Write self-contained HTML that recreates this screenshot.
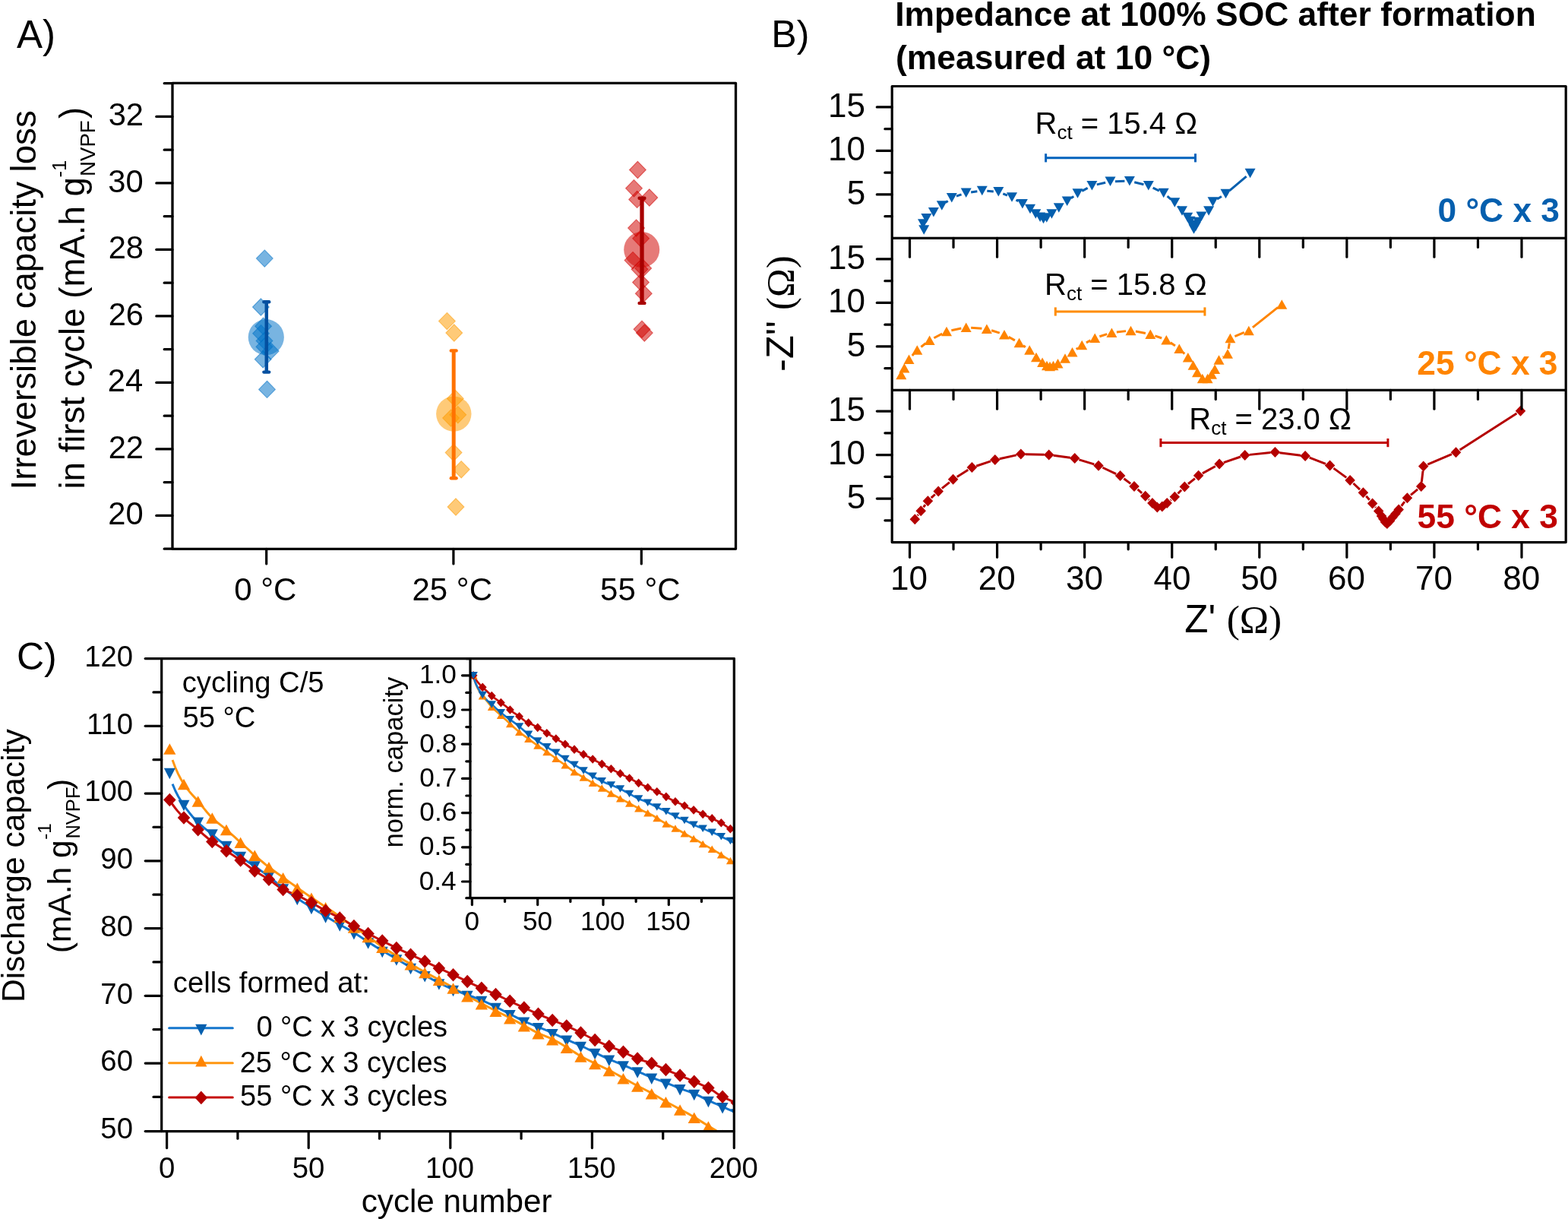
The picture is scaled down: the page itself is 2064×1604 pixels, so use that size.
<!DOCTYPE html>
<html><head><meta charset="utf-8"><title>Figure</title><style>html,body{margin:0;padding:0;background:#fff;overflow:hidden}svg{display:block}text{font-kerning:normal}</style></head><body>
<svg width="2064" height="1604" viewBox="0 0 2064 1604"><rect width="2064" height="1604" fill="#fff"/><text x="22.1" y="62.8" font-family="'Liberation Sans', Arial, sans-serif" font-size="51" fill="#000">A)</text>
<polygon points="348.3,328.95 359.2,340.1 348.3,351.25 337.4,340.1" fill="rgb(0,113,198)" fill-opacity="0.53" stroke="rgb(0,113,198)" stroke-opacity="0.53" stroke-width="1.1"/>
<polygon points="343.4,392.85 354.3,404 343.4,415.15 332.5,404" fill="rgb(0,113,198)" fill-opacity="0.53" stroke="rgb(0,113,198)" stroke-opacity="0.53" stroke-width="1.1"/>
<polygon points="346.6,418.05 357.5,429.2 346.6,440.35 335.7,429.2" fill="rgb(0,113,198)" fill-opacity="0.53" stroke="rgb(0,113,198)" stroke-opacity="0.53" stroke-width="1.1"/>
<polygon points="343.6,427.65 354.5,438.8 343.6,449.95 332.7,438.8" fill="rgb(0,113,198)" fill-opacity="0.53" stroke="rgb(0,113,198)" stroke-opacity="0.53" stroke-width="1.1"/>
<polygon points="348,437.25 358.9,448.4 348,459.55 337.1,448.4" fill="rgb(0,113,198)" fill-opacity="0.53" stroke="rgb(0,113,198)" stroke-opacity="0.53" stroke-width="1.1"/>
<polygon points="347.9,445.05 358.8,456.2 347.9,467.35 337,456.2" fill="rgb(0,113,198)" fill-opacity="0.53" stroke="rgb(0,113,198)" stroke-opacity="0.53" stroke-width="1.1"/>
<polygon points="356.2,450.75 367.1,461.9 356.2,473.05 345.3,461.9" fill="rgb(0,113,198)" fill-opacity="0.53" stroke="rgb(0,113,198)" stroke-opacity="0.53" stroke-width="1.1"/>
<polygon points="346.2,461.65 357.1,472.8 346.2,483.95 335.3,472.8" fill="rgb(0,113,198)" fill-opacity="0.53" stroke="rgb(0,113,198)" stroke-opacity="0.53" stroke-width="1.1"/>
<polygon points="351.5,501.25 362.4,512.4 351.5,523.55 340.6,512.4" fill="rgb(0,113,198)" fill-opacity="0.53" stroke="rgb(0,113,198)" stroke-opacity="0.53" stroke-width="1.1"/>
<circle cx="350.3" cy="443.7" r="23.6" fill="rgb(0,113,198)" fill-opacity="0.53"/>
<line x1="350.8" y1="397.2" x2="350.8" y2="489.6" stroke="#0450a0" stroke-width="4.5" stroke-linecap="butt"/>
<line x1="347.4" y1="397.2" x2="354.2" y2="397.2" stroke="#0450a0" stroke-width="4.4" stroke-linecap="round"/>
<line x1="347.4" y1="489.6" x2="354.2" y2="489.6" stroke="#0450a0" stroke-width="4.4" stroke-linecap="round"/>
<polygon points="588.4,411.45 599.3,422.6 588.4,433.75 577.5,422.6" fill="rgb(253,155,0)" fill-opacity="0.53" stroke="rgb(253,155,0)" stroke-opacity="0.53" stroke-width="1.1"/>
<polygon points="597.8,426.85 608.7,438 597.8,449.15 586.9,438" fill="rgb(253,155,0)" fill-opacity="0.53" stroke="rgb(253,155,0)" stroke-opacity="0.53" stroke-width="1.1"/>
<polygon points="599.3,513.25 610.2,524.4 599.3,535.55 588.4,524.4" fill="rgb(253,155,0)" fill-opacity="0.53" stroke="rgb(253,155,0)" stroke-opacity="0.53" stroke-width="1.1"/>
<polygon points="593.6,538.95 604.5,550.1 593.6,561.25 582.7,550.1" fill="rgb(253,155,0)" fill-opacity="0.53" stroke="rgb(253,155,0)" stroke-opacity="0.53" stroke-width="1.1"/>
<polygon points="602.8,534.65 613.7,545.8 602.8,556.95 591.9,545.8" fill="rgb(253,155,0)" fill-opacity="0.53" stroke="rgb(253,155,0)" stroke-opacity="0.53" stroke-width="1.1"/>
<polygon points="597.1,584.45 608,595.6 597.1,606.75 586.2,595.6" fill="rgb(253,155,0)" fill-opacity="0.53" stroke="rgb(253,155,0)" stroke-opacity="0.53" stroke-width="1.1"/>
<polygon points="607.2,606.65 618.1,617.8 607.2,628.95 596.3,617.8" fill="rgb(253,155,0)" fill-opacity="0.53" stroke="rgb(253,155,0)" stroke-opacity="0.53" stroke-width="1.1"/>
<polygon points="600,655.85 610.9,667 600,678.15 589.1,667" fill="rgb(253,155,0)" fill-opacity="0.53" stroke="rgb(253,155,0)" stroke-opacity="0.53" stroke-width="1.1"/>
<circle cx="597.3" cy="544.6" r="23.2" fill="rgb(253,155,0)" fill-opacity="0.53"/>
<line x1="597.2" y1="461.4" x2="597.2" y2="629.2" stroke="#ff7200" stroke-width="5" stroke-linecap="butt"/>
<line x1="593.8" y1="461.4" x2="600.6" y2="461.4" stroke="#ff7200" stroke-width="4.4" stroke-linecap="round"/>
<line x1="593.8" y1="629.2" x2="600.6" y2="629.2" stroke="#ff7200" stroke-width="4.4" stroke-linecap="round"/>
<polygon points="839.4,212.35 850.3,223.5 839.4,234.65 828.5,223.5" fill="rgb(208,4,0)" fill-opacity="0.53" stroke="rgb(208,4,0)" stroke-opacity="0.53" stroke-width="1.1"/>
<polygon points="834.5,236.65 845.4,247.8 834.5,258.95 823.6,247.8" fill="rgb(208,4,0)" fill-opacity="0.53" stroke="rgb(208,4,0)" stroke-opacity="0.53" stroke-width="1.1"/>
<polygon points="854.8,248.85 865.7,260 854.8,271.15 843.9,260" fill="rgb(208,4,0)" fill-opacity="0.53" stroke="rgb(208,4,0)" stroke-opacity="0.53" stroke-width="1.1"/>
<polygon points="838.6,251.25 849.5,262.4 838.6,273.55 827.7,262.4" fill="rgb(208,4,0)" fill-opacity="0.53" stroke="rgb(208,4,0)" stroke-opacity="0.53" stroke-width="1.1"/>
<polygon points="837.5,288.95 848.4,300.1 837.5,311.25 826.6,300.1" fill="rgb(208,4,0)" fill-opacity="0.53" stroke="rgb(208,4,0)" stroke-opacity="0.53" stroke-width="1.1"/>
<polygon points="843.6,302.65 854.5,313.8 843.6,324.95 832.7,313.8" fill="rgb(208,4,0)" fill-opacity="0.53" stroke="rgb(208,4,0)" stroke-opacity="0.53" stroke-width="1.1"/>
<polygon points="833,331.45 843.9,342.6 833,353.75 822.1,342.6" fill="rgb(208,4,0)" fill-opacity="0.53" stroke="rgb(208,4,0)" stroke-opacity="0.53" stroke-width="1.1"/>
<polygon points="846.7,341.75 857.6,352.9 846.7,364.05 835.8,352.9" fill="rgb(208,4,0)" fill-opacity="0.53" stroke="rgb(208,4,0)" stroke-opacity="0.53" stroke-width="1.1"/>
<polygon points="842,343.15 852.9,354.3 842,365.45 831.1,354.3" fill="rgb(208,4,0)" fill-opacity="0.53" stroke="rgb(208,4,0)" stroke-opacity="0.53" stroke-width="1.1"/>
<polygon points="843.5,360.45 854.4,371.6 843.5,382.75 832.6,371.6" fill="rgb(208,4,0)" fill-opacity="0.53" stroke="rgb(208,4,0)" stroke-opacity="0.53" stroke-width="1.1"/>
<polygon points="847.3,375.05 858.2,386.2 847.3,397.35 836.4,386.2" fill="rgb(208,4,0)" fill-opacity="0.53" stroke="rgb(208,4,0)" stroke-opacity="0.53" stroke-width="1.1"/>
<polygon points="845,422.15 855.9,433.3 845,444.45 834.1,433.3" fill="rgb(208,4,0)" fill-opacity="0.53" stroke="rgb(208,4,0)" stroke-opacity="0.53" stroke-width="1.1"/>
<polygon points="848.3,426.95 859.2,438.1 848.3,449.25 837.4,438.1" fill="rgb(208,4,0)" fill-opacity="0.53" stroke="rgb(208,4,0)" stroke-opacity="0.53" stroke-width="1.1"/>
<circle cx="844.7" cy="328.5" r="23.5" fill="rgb(208,4,0)" fill-opacity="0.53"/>
<line x1="845" y1="260.7" x2="845" y2="398.9" stroke="#a80000" stroke-width="5.3" stroke-linecap="butt"/>
<line x1="841.6" y1="260.7" x2="848.4" y2="260.7" stroke="#a80000" stroke-width="4.4" stroke-linecap="round"/>
<line x1="841.6" y1="398.9" x2="848.4" y2="398.9" stroke="#a80000" stroke-width="4.4" stroke-linecap="round"/>
<rect x="227" y="109.3" width="741.5" height="613" fill="none" stroke="#000" stroke-width="3.3" stroke-linejoin="round"/>
<line x1="227" y1="722.15" x2="216.2" y2="722.15" stroke="#000" stroke-width="3.2" stroke-linecap="round"/>
<line x1="227" y1="678.4" x2="205.8" y2="678.4" stroke="#000" stroke-width="3.2" stroke-linecap="round"/>
<text x="142.26" y="690" font-family="'Liberation Sans', Arial, sans-serif" font-size="41.7" fill="#000">20</text>
<line x1="227" y1="634.65" x2="216.2" y2="634.65" stroke="#000" stroke-width="3.2" stroke-linecap="round"/>
<line x1="227" y1="590.9" x2="205.8" y2="590.9" stroke="#000" stroke-width="3.2" stroke-linecap="round"/>
<text x="142.68" y="602.5" font-family="'Liberation Sans', Arial, sans-serif" font-size="41.7" fill="#000">22</text>
<line x1="227" y1="547.15" x2="216.2" y2="547.15" stroke="#000" stroke-width="3.2" stroke-linecap="round"/>
<line x1="227" y1="503.4" x2="205.8" y2="503.4" stroke="#000" stroke-width="3.2" stroke-linecap="round"/>
<text x="141.85" y="515" font-family="'Liberation Sans', Arial, sans-serif" font-size="41.7" fill="#000">24</text>
<line x1="227" y1="459.65" x2="216.2" y2="459.65" stroke="#000" stroke-width="3.2" stroke-linecap="round"/>
<line x1="227" y1="415.9" x2="205.8" y2="415.9" stroke="#000" stroke-width="3.2" stroke-linecap="round"/>
<text x="142.68" y="427.5" font-family="'Liberation Sans', Arial, sans-serif" font-size="41.7" fill="#000">26</text>
<line x1="227" y1="372.15" x2="216.2" y2="372.15" stroke="#000" stroke-width="3.2" stroke-linecap="round"/>
<line x1="227" y1="328.4" x2="205.8" y2="328.4" stroke="#000" stroke-width="3.2" stroke-linecap="round"/>
<text x="142.68" y="340" font-family="'Liberation Sans', Arial, sans-serif" font-size="41.7" fill="#000">28</text>
<line x1="227" y1="284.65" x2="216.2" y2="284.65" stroke="#000" stroke-width="3.2" stroke-linecap="round"/>
<line x1="227" y1="240.9" x2="205.8" y2="240.9" stroke="#000" stroke-width="3.2" stroke-linecap="round"/>
<text x="142.26" y="252.5" font-family="'Liberation Sans', Arial, sans-serif" font-size="41.7" fill="#000">30</text>
<line x1="227" y1="197.15" x2="216.2" y2="197.15" stroke="#000" stroke-width="3.2" stroke-linecap="round"/>
<line x1="227" y1="153.4" x2="205.8" y2="153.4" stroke="#000" stroke-width="3.2" stroke-linecap="round"/>
<text x="142.68" y="165" font-family="'Liberation Sans', Arial, sans-serif" font-size="41.7" fill="#000">32</text>
<line x1="227" y1="109.65" x2="216.2" y2="109.65" stroke="#000" stroke-width="3.2" stroke-linecap="round"/>
<line x1="350.7" y1="722.3" x2="350.7" y2="742" stroke="#000" stroke-width="3.2" stroke-linecap="round"/>
<text x="308.25" y="789.9" font-family="'Liberation Sans', Arial, sans-serif" font-size="42" fill="#000">0 °C</text>
<line x1="596.9" y1="722.3" x2="596.9" y2="742" stroke="#000" stroke-width="3.2" stroke-linecap="round"/>
<text x="542.48" y="789.9" font-family="'Liberation Sans', Arial, sans-serif" font-size="42" fill="#000">25 °C</text>
<line x1="844.3" y1="722.3" x2="844.3" y2="742" stroke="#000" stroke-width="3.2" stroke-linecap="round"/>
<text x="790.09" y="789.9" font-family="'Liberation Sans', Arial, sans-serif" font-size="42" fill="#000">55 °C</text>
<g transform="translate(47,640.4) rotate(-90)">
<text x="-4.1" y="0" font-family="'Liberation Sans', Arial, sans-serif" font-size="45.6" fill="#000">Irreversible capacity loss</text>
</g>
<g transform="translate(110.5,640.4) rotate(-90)">
<text x="-3.19" y="0" font-family="'Liberation Sans', Arial, sans-serif" font-size="45.6" fill="#000">in first cycle (mA.h g</text>
<text x="406.88" y="-23.7" font-family="'Liberation Sans', Arial, sans-serif" font-size="25.5" fill="#000">-1</text>
<text x="408.49" y="14.9" font-family="'Liberation Sans', Arial, sans-serif" font-size="27.6" fill="#000">NVPF</text>
<text x="484.44" y="0" font-family="'Liberation Sans', Arial, sans-serif" font-size="45.6" fill="#000">)</text>
</g>
<text x="1015.3" y="61.5" font-family="'Liberation Sans', Arial, sans-serif" font-size="50" fill="#000">B)</text>
<text x="1178.19" y="33.8" font-family="'Liberation Sans', Arial, sans-serif" font-size="44.4" font-weight="bold" fill="#000">Impedance at 100% SOC after formation</text>
<text x="1179.08" y="90.8" font-family="'Liberation Sans', Arial, sans-serif" font-size="44.4" font-weight="bold" fill="#000">(measured at 10 °C)</text>
<path d="M1244.91,266.49L1247.69,264.31M1258.95,258.19L1265.55,255.91M1278.14,252.91L1286.36,251.79M1299.29,251.32L1307.81,251.88M1320.31,254.78L1325.99,257.12M1337.51,263.05L1340.39,264.85M1409.93,260.84L1413.27,258.36M1424.22,251.41L1431.68,247.39M1443.74,242.85L1455.16,240.25M1468,238.65L1480.4,238.35M1493.22,239.72L1505.48,242.68M1517.64,247.05L1525.86,251.05M1536.6,258.17L1541.4,262.33M1550.62,271.46L1551.68,272.64M1602.06,262.03L1607.94,258.47M1618.46,250.9L1640.64,232.1" stroke="#055fae" stroke-width="3" fill="none"/>
<path d="M1200.79,467.92L1203.01,465.38M1212.41,456.49L1218.49,451.71M1229.37,444.71L1240.23,439.09M1252.36,434.76L1265.34,432.04M1278.18,431.18L1292.42,432.22M1305.08,434.71L1315.82,438.19M1327.69,443.34L1335.91,447.86M1346.93,454.72L1349.87,456.78M1416.74,459.46L1418.96,457.84M1429.9,450.88L1435.5,447.82M1447.4,442.75L1457.2,439.65M1469.86,436.98L1482.04,435.62M1494.89,436.09L1507.91,438.51M1520.42,441.89L1529.18,445.01M1540.68,450.84L1546.92,455.06M1556.9,463.3L1559.2,465.6M1609.81,469.86L1610.69,469.24M1617.07,459.09L1618.33,451.51M1625.4,442.59L1637.8,437.41M1648.89,430.86L1682.21,404.44" stroke="#ff8400" stroke-width="3" fill="none"/>
<path d="M1207.8,678.33L1208.7,677.07M1215.68,667.32L1217.92,664.18M1225.78,655.2L1230.82,650.5M1239.88,642.64L1249.92,634.56M1259.67,627.59L1274.33,618.31M1285.09,613.21L1304.11,606.89M1315.66,603.72L1337.94,598.88M1349.8,597.75L1374.7,598.35M1386.65,599.3L1408.75,602.3M1420.44,604.86L1440.26,610.94M1451.43,615.25L1469.17,623.55M1479.39,629.72L1488.21,636.38M1497.52,643.94L1503.18,648.86M1511.94,657.04L1512.66,657.76M1540.86,658.22L1541.64,657.58M1550.49,649.51L1555.11,644.79M1563.98,636.74L1572.92,629.56M1582.85,622.9L1599.85,613.5M1610.77,608.64L1633.03,600.96M1644.67,598.38L1672.43,595.52M1684.35,595.66L1712.15,599.24M1723.69,602.17L1745.01,610.43M1755.45,616.13L1772.25,628.37M1781.47,636.01L1790.03,644.09M1798.31,652.75L1802.69,657.85M1810.33,667.1L1810.97,667.9M1844.74,665.76L1848.86,660.14M1857.02,651.47L1866.08,643.93M1871.37,634.14L1873.03,619.56M1879.22,611.24L1910.98,597.66M1921.55,592.06L1996.45,544.04" stroke="#b40000" stroke-width="3" fill="none"/>
<polygon points="1209.2,296.25 1223.2,296.25 1216.2,308.75" fill="#055fae"/>
<polygon points="1208,288.25 1222,288.25 1215,300.75" fill="#055fae"/>
<polygon points="1212.4,280.95 1226.4,280.95 1219.4,293.45" fill="#055fae"/>
<polygon points="1221.9,272.95 1235.9,272.95 1228.9,285.45" fill="#055fae"/>
<polygon points="1232.8,264.25 1246.8,264.25 1239.8,276.75" fill="#055fae"/>
<polygon points="1245.8,254.05 1259.8,254.05 1252.8,266.55" fill="#055fae"/>
<polygon points="1264.7,247.55 1278.7,247.55 1271.7,260.05" fill="#055fae"/>
<polygon points="1285.8,244.65 1299.8,244.65 1292.8,257.15" fill="#055fae"/>
<polygon points="1307.3,246.05 1321.3,246.05 1314.3,258.55" fill="#055fae"/>
<polygon points="1325,253.35 1339,253.35 1332,265.85" fill="#055fae"/>
<polygon points="1338.9,262.05 1352.9,262.05 1345.9,274.55" fill="#055fae"/>
<polygon points="1349,268.65 1363,268.65 1356,281.15" fill="#055fae"/>
<polygon points="1356.3,275.15 1370.3,275.15 1363.3,287.65" fill="#055fae"/>
<polygon points="1362.1,279.55 1376.1,279.55 1369.1,292.05" fill="#055fae"/>
<polygon points="1366.5,281.75 1380.5,281.75 1373.5,294.25" fill="#055fae"/>
<polygon points="1370.8,280.25 1384.8,280.25 1377.8,292.75" fill="#055fae"/>
<polygon points="1377.4,275.15 1391.4,275.15 1384.4,287.65" fill="#055fae"/>
<polygon points="1386.8,267.15 1400.8,267.15 1393.8,279.65" fill="#055fae"/>
<polygon points="1397.7,258.45 1411.7,258.45 1404.7,270.95" fill="#055fae"/>
<polygon points="1411.5,248.25 1425.5,248.25 1418.5,260.75" fill="#055fae"/>
<polygon points="1430.4,238.05 1444.4,238.05 1437.4,250.55" fill="#055fae"/>
<polygon points="1454.5,232.55 1468.5,232.55 1461.5,245.05" fill="#055fae"/>
<polygon points="1479.9,231.95 1493.9,231.95 1486.9,244.45" fill="#055fae"/>
<polygon points="1504.8,237.95 1518.8,237.95 1511.8,250.45" fill="#055fae"/>
<polygon points="1524.7,247.65 1538.7,247.65 1531.7,260.15" fill="#055fae"/>
<polygon points="1539.3,260.35 1553.3,260.35 1546.3,272.85" fill="#055fae"/>
<polygon points="1549,271.25 1563,271.25 1556,283.75" fill="#055fae"/>
<polygon points="1556.2,279.75 1570.2,279.75 1563.2,292.25" fill="#055fae"/>
<polygon points="1559.5,284.75 1573.5,284.75 1566.5,297.25" fill="#055fae"/>
<polygon points="1562,289.75 1576,289.75 1569,302.25" fill="#055fae"/>
<polygon points="1564.5,295.25 1578.5,295.25 1571.5,307.75" fill="#055fae"/>
<polygon points="1567,291.75 1581,291.75 1574,304.25" fill="#055fae"/>
<polygon points="1570,285.75 1584,285.75 1577,298.25" fill="#055fae"/>
<polygon points="1574.4,278.55 1588.4,278.55 1581.4,291.05" fill="#055fae"/>
<polygon points="1584.1,271.25 1598.1,271.25 1591.1,283.75" fill="#055fae"/>
<polygon points="1589.5,259.15 1603.5,259.15 1596.5,271.65" fill="#055fae"/>
<polygon points="1606.5,248.85 1620.5,248.85 1613.5,261.35" fill="#055fae"/>
<polygon points="1638.6,221.65 1652.6,221.65 1645.6,234.15" fill="#055fae"/>
<polygon points="1179.3,499.35 1193.3,499.35 1186.3,486.85" fill="#ff8400"/>
<polygon points="1183.4,490.55 1197.4,490.55 1190.4,478.05" fill="#ff8400"/>
<polygon points="1189.5,479.05 1203.5,479.05 1196.5,466.55" fill="#ff8400"/>
<polygon points="1200.3,466.75 1214.3,466.75 1207.3,454.25" fill="#ff8400"/>
<polygon points="1216.6,453.95 1230.6,453.95 1223.6,441.45" fill="#ff8400"/>
<polygon points="1239,442.35 1253,442.35 1246,429.85" fill="#ff8400"/>
<polygon points="1264.7,436.95 1278.7,436.95 1271.7,424.45" fill="#ff8400"/>
<polygon points="1291.9,438.95 1305.9,438.95 1298.9,426.45" fill="#ff8400"/>
<polygon points="1315,446.45 1329,446.45 1322,433.95" fill="#ff8400"/>
<polygon points="1334.6,457.25 1348.6,457.25 1341.6,444.75" fill="#ff8400"/>
<polygon points="1348.2,466.75 1362.2,466.75 1355.2,454.25" fill="#ff8400"/>
<polygon points="1357,476.25 1371,476.25 1364,463.75" fill="#ff8400"/>
<polygon points="1365.1,483.05 1379.1,483.05 1372.1,470.55" fill="#ff8400"/>
<polygon points="1371,487.25 1385,487.25 1378,474.75" fill="#ff8400"/>
<polygon points="1375,488.25 1389,488.25 1382,475.75" fill="#ff8400"/>
<polygon points="1379.5,487.25 1393.5,487.25 1386.5,474.75" fill="#ff8400"/>
<polygon points="1385.5,484.45 1399.5,484.45 1392.5,471.95" fill="#ff8400"/>
<polygon points="1395,477.65 1409,477.65 1402,465.15" fill="#ff8400"/>
<polygon points="1404.5,469.55 1418.5,469.55 1411.5,457.05" fill="#ff8400"/>
<polygon points="1417.2,460.25 1431.2,460.25 1424.2,447.75" fill="#ff8400"/>
<polygon points="1434.2,450.95 1448.2,450.95 1441.2,438.45" fill="#ff8400"/>
<polygon points="1456.4,443.95 1470.4,443.95 1463.4,431.45" fill="#ff8400"/>
<polygon points="1481.5,441.15 1495.5,441.15 1488.5,428.65" fill="#ff8400"/>
<polygon points="1507.3,445.95 1521.3,445.95 1514.3,433.45" fill="#ff8400"/>
<polygon points="1528.3,453.45 1542.3,453.45 1535.3,440.95" fill="#ff8400"/>
<polygon points="1545.3,464.95 1559.3,464.95 1552.3,452.45" fill="#ff8400"/>
<polygon points="1556.8,476.45 1570.8,476.45 1563.8,463.95" fill="#ff8400"/>
<polygon points="1563.6,486.65 1577.6,486.65 1570.6,474.15" fill="#ff8400"/>
<polygon points="1569,496.15 1583,496.15 1576,483.65" fill="#ff8400"/>
<polygon points="1575.8,504.25 1589.8,504.25 1582.8,491.75" fill="#ff8400"/>
<polygon points="1582.6,504.25 1596.6,504.25 1589.6,491.75" fill="#ff8400"/>
<polygon points="1588,498.85 1602,498.85 1595,486.35" fill="#ff8400"/>
<polygon points="1592.1,492.05 1606.1,492.05 1599.1,479.55" fill="#ff8400"/>
<polygon points="1597.5,479.85 1611.5,479.85 1604.5,467.35" fill="#ff8400"/>
<polygon points="1609,471.75 1623,471.75 1616,459.25" fill="#ff8400"/>
<polygon points="1612.4,451.35 1626.4,451.35 1619.4,438.85" fill="#ff8400"/>
<polygon points="1636.8,441.15 1650.8,441.15 1643.8,428.65" fill="#ff8400"/>
<polygon points="1680.3,406.65 1694.3,406.65 1687.3,394.15" fill="#ff8400"/>
<polygon points="1204.3,676.2 1211.05,683.2 1204.3,690.2 1197.55,683.2" fill="#b40000"/>
<polygon points="1212.2,665.2 1218.95,672.2 1212.2,679.2 1205.45,672.2" fill="#b40000"/>
<polygon points="1221.4,652.3 1228.15,659.3 1221.4,666.3 1214.65,659.3" fill="#b40000"/>
<polygon points="1235.2,639.4 1241.95,646.4 1235.2,653.4 1228.45,646.4" fill="#b40000"/>
<polygon points="1254.6,623.8 1261.35,630.8 1254.6,637.8 1247.85,630.8" fill="#b40000"/>
<polygon points="1279.4,608.1 1286.15,615.1 1279.4,622.1 1272.65,615.1" fill="#b40000"/>
<polygon points="1309.8,598 1316.55,605 1309.8,612 1303.05,605" fill="#b40000"/>
<polygon points="1343.8,590.6 1350.55,597.6 1343.8,604.6 1337.05,597.6" fill="#b40000"/>
<polygon points="1380.7,591.5 1387.45,598.5 1380.7,605.5 1373.95,598.5" fill="#b40000"/>
<polygon points="1414.7,596.1 1421.45,603.1 1414.7,610.1 1407.95,603.1" fill="#b40000"/>
<polygon points="1446,605.7 1452.75,612.7 1446,619.7 1439.25,612.7" fill="#b40000"/>
<polygon points="1474.6,619.1 1481.35,626.1 1474.6,633.1 1467.85,626.1" fill="#b40000"/>
<polygon points="1493,633 1499.75,640 1493,647 1486.25,640" fill="#b40000"/>
<polygon points="1507.7,645.8 1514.45,652.8 1507.7,659.8 1500.95,652.8" fill="#b40000"/>
<polygon points="1516.9,655 1523.65,662 1516.9,669 1510.15,662" fill="#b40000"/>
<polygon points="1523.3,660.6 1530.05,667.6 1523.3,674.6 1516.55,667.6" fill="#b40000"/>
<polygon points="1529.8,659.6 1536.55,666.6 1529.8,673.6 1523.05,666.6" fill="#b40000"/>
<polygon points="1536.2,655 1542.95,662 1536.2,669 1529.45,662" fill="#b40000"/>
<polygon points="1546.3,646.8 1553.05,653.8 1546.3,660.8 1539.55,653.8" fill="#b40000"/>
<polygon points="1559.3,633.5 1566.05,640.5 1559.3,647.5 1552.55,640.5" fill="#b40000"/>
<polygon points="1577.6,618.8 1584.35,625.8 1577.6,632.8 1570.85,625.8" fill="#b40000"/>
<polygon points="1605.1,603.6 1611.85,610.6 1605.1,617.6 1598.35,610.6" fill="#b40000"/>
<polygon points="1638.7,592 1645.45,599 1638.7,606 1631.95,599" fill="#b40000"/>
<polygon points="1678.4,587.9 1685.15,594.9 1678.4,601.9 1671.65,594.9" fill="#b40000"/>
<polygon points="1718.1,593 1724.85,600 1718.1,607 1711.35,600" fill="#b40000"/>
<polygon points="1750.6,605.6 1757.35,612.6 1750.6,619.6 1743.85,612.6" fill="#b40000"/>
<polygon points="1777.1,624.9 1783.85,631.9 1777.1,638.9 1770.35,631.9" fill="#b40000"/>
<polygon points="1794.4,641.2 1801.15,648.2 1794.4,655.2 1787.65,648.2" fill="#b40000"/>
<polygon points="1806.6,655.4 1813.35,662.4 1806.6,669.4 1799.85,662.4" fill="#b40000"/>
<polygon points="1814.7,665.6 1821.45,672.6 1814.7,679.6 1807.95,672.6" fill="#b40000"/>
<polygon points="1818.5,672 1825.25,679 1818.5,686 1811.75,679" fill="#b40000"/>
<polygon points="1820.8,675.8 1827.55,682.8 1820.8,689.8 1814.05,682.8" fill="#b40000"/>
<polygon points="1823.5,680 1830.25,687 1823.5,694 1816.75,687" fill="#b40000"/>
<polygon points="1825.9,681.9 1832.65,688.9 1825.9,695.9 1819.15,688.9" fill="#b40000"/>
<polygon points="1829.5,678.5 1836.25,685.5 1829.5,692.5 1822.75,685.5" fill="#b40000"/>
<polygon points="1833,673.8 1839.75,680.8 1833,687.8 1826.25,680.8" fill="#b40000"/>
<polygon points="1837,669 1843.75,676 1837,683 1830.25,676" fill="#b40000"/>
<polygon points="1841.2,663.6 1847.95,670.6 1841.2,677.6 1834.45,670.6" fill="#b40000"/>
<polygon points="1852.4,648.3 1859.15,655.3 1852.4,662.3 1845.65,655.3" fill="#b40000"/>
<polygon points="1870.7,633.1 1877.45,640.1 1870.7,647.1 1863.95,640.1" fill="#b40000"/>
<polygon points="1873.7,606.6 1880.45,613.6 1873.7,620.6 1866.95,613.6" fill="#b40000"/>
<polygon points="1916.5,588.3 1923.25,595.3 1916.5,602.3 1909.75,595.3" fill="#b40000"/>
<polygon points="2001.5,533.8 2008.25,540.8 2001.5,547.8 1994.75,540.8" fill="#b40000"/>
<text x="1362.5" y="175.8" font-family="'Liberation Sans', Arial, sans-serif" font-size="40" fill="#000">R</text>
<text x="1391.39" y="183.4" font-family="'Liberation Sans', Arial, sans-serif" font-size="26" fill="#000">ct</text>
<text x="1411.61" y="175.8" font-family="'Liberation Sans', Arial, sans-serif" font-size="40" fill="#000"> = 15.4 Ω</text>
<line x1="1376.6" y1="207.8" x2="1573.5" y2="207.8" stroke="#0062bc" stroke-width="3" stroke-linecap="butt"/>
<line x1="1376.6" y1="202.2" x2="1376.6" y2="213.4" stroke="#0062bc" stroke-width="3" stroke-linecap="butt"/>
<line x1="1573.5" y1="202.2" x2="1573.5" y2="213.4" stroke="#0062bc" stroke-width="3" stroke-linecap="butt"/>
<text x="1375" y="387.8" font-family="'Liberation Sans', Arial, sans-serif" font-size="40" fill="#000">R</text>
<text x="1403.89" y="395.4" font-family="'Liberation Sans', Arial, sans-serif" font-size="26" fill="#000">ct</text>
<text x="1424.11" y="387.8" font-family="'Liberation Sans', Arial, sans-serif" font-size="40" fill="#000"> = 15.8 Ω</text>
<line x1="1389.3" y1="410" x2="1585.9" y2="410" stroke="#ff8c00" stroke-width="3" stroke-linecap="butt"/>
<line x1="1389.3" y1="404.4" x2="1389.3" y2="415.6" stroke="#ff8c00" stroke-width="3" stroke-linecap="butt"/>
<line x1="1585.9" y1="404.4" x2="1585.9" y2="415.6" stroke="#ff8c00" stroke-width="3" stroke-linecap="butt"/>
<text x="1565.3" y="564.8" font-family="'Liberation Sans', Arial, sans-serif" font-size="40" fill="#000">R</text>
<text x="1594.19" y="572.4" font-family="'Liberation Sans', Arial, sans-serif" font-size="26" fill="#000">ct</text>
<text x="1614.41" y="564.8" font-family="'Liberation Sans', Arial, sans-serif" font-size="40" fill="#000"> = 23.0 Ω</text>
<line x1="1527.9" y1="582.6" x2="1826.9" y2="582.6" stroke="#c00000" stroke-width="3" stroke-linecap="butt"/>
<line x1="1527.9" y1="577" x2="1527.9" y2="588.2" stroke="#c00000" stroke-width="3" stroke-linecap="butt"/>
<line x1="1826.9" y1="577" x2="1826.9" y2="588.2" stroke="#c00000" stroke-width="3" stroke-linecap="butt"/>
<text x="1892.46" y="292.2" font-family="'Liberation Sans', Arial, sans-serif" font-size="44.3" font-weight="bold" fill="#055fae">0 °C x 3</text>
<text x="1865.3" y="493.4" font-family="'Liberation Sans', Arial, sans-serif" font-size="44.3" font-weight="bold" fill="#ff8400">25 °C x 3</text>
<text x="1865.6" y="694.8" font-family="'Liberation Sans', Arial, sans-serif" font-size="44.3" font-weight="bold" fill="#c00000">55 °C x 3</text>
<rect x="1174.2" y="113.5" width="887" height="600.1" fill="none" stroke="#000" stroke-width="3.2" stroke-linejoin="round"/>
<line x1="1174.2" y1="313.4" x2="2061.2" y2="313.4" stroke="#000" stroke-width="3.2" stroke-linecap="butt"/>
<line x1="1174.2" y1="513.4" x2="2061.2" y2="513.4" stroke="#000" stroke-width="3.2" stroke-linecap="butt"/>
<line x1="1174.2" y1="284.65" x2="1164.9" y2="284.65" stroke="#000" stroke-width="3.2" stroke-linecap="round"/>
<line x1="1174.2" y1="255.9" x2="1154.3" y2="255.9" stroke="#000" stroke-width="3.2" stroke-linecap="round"/>
<text x="1114.72" y="268.5" font-family="'Liberation Sans', Arial, sans-serif" font-size="44" fill="#000">5</text>
<line x1="1174.2" y1="227.15" x2="1164.9" y2="227.15" stroke="#000" stroke-width="3.2" stroke-linecap="round"/>
<line x1="1174.2" y1="198.4" x2="1154.3" y2="198.4" stroke="#000" stroke-width="3.2" stroke-linecap="round"/>
<text x="1090.08" y="211" font-family="'Liberation Sans', Arial, sans-serif" font-size="44" fill="#000">10</text>
<line x1="1174.2" y1="169.65" x2="1164.9" y2="169.65" stroke="#000" stroke-width="3.2" stroke-linecap="round"/>
<line x1="1174.2" y1="140.9" x2="1154.3" y2="140.9" stroke="#000" stroke-width="3.2" stroke-linecap="round"/>
<text x="1090.08" y="153.5" font-family="'Liberation Sans', Arial, sans-serif" font-size="44" fill="#000">15</text>
<line x1="1197.5" y1="313.4" x2="1197.5" y2="338.2" stroke="#000" stroke-width="3.2" stroke-linecap="round"/>
<line x1="1255.04" y1="313.4" x2="1255.04" y2="325.4" stroke="#000" stroke-width="3.2" stroke-linecap="round"/>
<line x1="1312.57" y1="313.4" x2="1312.57" y2="338.2" stroke="#000" stroke-width="3.2" stroke-linecap="round"/>
<line x1="1370.11" y1="313.4" x2="1370.11" y2="325.4" stroke="#000" stroke-width="3.2" stroke-linecap="round"/>
<line x1="1427.64" y1="313.4" x2="1427.64" y2="338.2" stroke="#000" stroke-width="3.2" stroke-linecap="round"/>
<line x1="1485.17" y1="313.4" x2="1485.17" y2="325.4" stroke="#000" stroke-width="3.2" stroke-linecap="round"/>
<line x1="1542.71" y1="313.4" x2="1542.71" y2="338.2" stroke="#000" stroke-width="3.2" stroke-linecap="round"/>
<line x1="1600.24" y1="313.4" x2="1600.24" y2="325.4" stroke="#000" stroke-width="3.2" stroke-linecap="round"/>
<line x1="1657.78" y1="313.4" x2="1657.78" y2="338.2" stroke="#000" stroke-width="3.2" stroke-linecap="round"/>
<line x1="1715.32" y1="313.4" x2="1715.32" y2="325.4" stroke="#000" stroke-width="3.2" stroke-linecap="round"/>
<line x1="1772.85" y1="313.4" x2="1772.85" y2="338.2" stroke="#000" stroke-width="3.2" stroke-linecap="round"/>
<line x1="1830.38" y1="313.4" x2="1830.38" y2="325.4" stroke="#000" stroke-width="3.2" stroke-linecap="round"/>
<line x1="1887.92" y1="313.4" x2="1887.92" y2="338.2" stroke="#000" stroke-width="3.2" stroke-linecap="round"/>
<line x1="1945.45" y1="313.4" x2="1945.45" y2="325.4" stroke="#000" stroke-width="3.2" stroke-linecap="round"/>
<line x1="2002.99" y1="313.4" x2="2002.99" y2="338.2" stroke="#000" stroke-width="3.2" stroke-linecap="round"/>
<line x1="1174.2" y1="484.65" x2="1164.9" y2="484.65" stroke="#000" stroke-width="3.2" stroke-linecap="round"/>
<line x1="1174.2" y1="455.9" x2="1154.3" y2="455.9" stroke="#000" stroke-width="3.2" stroke-linecap="round"/>
<text x="1114.72" y="468.5" font-family="'Liberation Sans', Arial, sans-serif" font-size="44" fill="#000">5</text>
<line x1="1174.2" y1="427.15" x2="1164.9" y2="427.15" stroke="#000" stroke-width="3.2" stroke-linecap="round"/>
<line x1="1174.2" y1="398.4" x2="1154.3" y2="398.4" stroke="#000" stroke-width="3.2" stroke-linecap="round"/>
<text x="1090.08" y="411" font-family="'Liberation Sans', Arial, sans-serif" font-size="44" fill="#000">10</text>
<line x1="1174.2" y1="369.65" x2="1164.9" y2="369.65" stroke="#000" stroke-width="3.2" stroke-linecap="round"/>
<line x1="1174.2" y1="340.9" x2="1154.3" y2="340.9" stroke="#000" stroke-width="3.2" stroke-linecap="round"/>
<text x="1090.08" y="353.5" font-family="'Liberation Sans', Arial, sans-serif" font-size="44" fill="#000">15</text>
<line x1="1197.5" y1="513.4" x2="1197.5" y2="538.2" stroke="#000" stroke-width="3.2" stroke-linecap="round"/>
<line x1="1255.04" y1="513.4" x2="1255.04" y2="525.4" stroke="#000" stroke-width="3.2" stroke-linecap="round"/>
<line x1="1312.57" y1="513.4" x2="1312.57" y2="538.2" stroke="#000" stroke-width="3.2" stroke-linecap="round"/>
<line x1="1370.11" y1="513.4" x2="1370.11" y2="525.4" stroke="#000" stroke-width="3.2" stroke-linecap="round"/>
<line x1="1427.64" y1="513.4" x2="1427.64" y2="538.2" stroke="#000" stroke-width="3.2" stroke-linecap="round"/>
<line x1="1485.17" y1="513.4" x2="1485.17" y2="525.4" stroke="#000" stroke-width="3.2" stroke-linecap="round"/>
<line x1="1542.71" y1="513.4" x2="1542.71" y2="538.2" stroke="#000" stroke-width="3.2" stroke-linecap="round"/>
<line x1="1600.24" y1="513.4" x2="1600.24" y2="525.4" stroke="#000" stroke-width="3.2" stroke-linecap="round"/>
<line x1="1657.78" y1="513.4" x2="1657.78" y2="538.2" stroke="#000" stroke-width="3.2" stroke-linecap="round"/>
<line x1="1715.32" y1="513.4" x2="1715.32" y2="525.4" stroke="#000" stroke-width="3.2" stroke-linecap="round"/>
<line x1="1772.85" y1="513.4" x2="1772.85" y2="538.2" stroke="#000" stroke-width="3.2" stroke-linecap="round"/>
<line x1="1830.38" y1="513.4" x2="1830.38" y2="525.4" stroke="#000" stroke-width="3.2" stroke-linecap="round"/>
<line x1="1887.92" y1="513.4" x2="1887.92" y2="538.2" stroke="#000" stroke-width="3.2" stroke-linecap="round"/>
<line x1="1945.45" y1="513.4" x2="1945.45" y2="525.4" stroke="#000" stroke-width="3.2" stroke-linecap="round"/>
<line x1="2002.99" y1="513.4" x2="2002.99" y2="538.2" stroke="#000" stroke-width="3.2" stroke-linecap="round"/>
<line x1="1174.2" y1="684.85" x2="1164.9" y2="684.85" stroke="#000" stroke-width="3.2" stroke-linecap="round"/>
<line x1="1174.2" y1="656.1" x2="1154.3" y2="656.1" stroke="#000" stroke-width="3.2" stroke-linecap="round"/>
<text x="1114.72" y="668.7" font-family="'Liberation Sans', Arial, sans-serif" font-size="44" fill="#000">5</text>
<line x1="1174.2" y1="627.35" x2="1164.9" y2="627.35" stroke="#000" stroke-width="3.2" stroke-linecap="round"/>
<line x1="1174.2" y1="598.6" x2="1154.3" y2="598.6" stroke="#000" stroke-width="3.2" stroke-linecap="round"/>
<text x="1090.08" y="611.2" font-family="'Liberation Sans', Arial, sans-serif" font-size="44" fill="#000">10</text>
<line x1="1174.2" y1="569.85" x2="1164.9" y2="569.85" stroke="#000" stroke-width="3.2" stroke-linecap="round"/>
<line x1="1174.2" y1="541.1" x2="1154.3" y2="541.1" stroke="#000" stroke-width="3.2" stroke-linecap="round"/>
<text x="1090.08" y="553.7" font-family="'Liberation Sans', Arial, sans-serif" font-size="44" fill="#000">15</text>
<line x1="1197.5" y1="713.6" x2="1197.5" y2="733.3" stroke="#000" stroke-width="3.2" stroke-linecap="round"/>
<line x1="1255.04" y1="713.6" x2="1255.04" y2="722.8" stroke="#000" stroke-width="3.2" stroke-linecap="round"/>
<line x1="1312.57" y1="713.6" x2="1312.57" y2="733.3" stroke="#000" stroke-width="3.2" stroke-linecap="round"/>
<line x1="1370.11" y1="713.6" x2="1370.11" y2="722.8" stroke="#000" stroke-width="3.2" stroke-linecap="round"/>
<line x1="1427.64" y1="713.6" x2="1427.64" y2="733.3" stroke="#000" stroke-width="3.2" stroke-linecap="round"/>
<line x1="1485.17" y1="713.6" x2="1485.17" y2="722.8" stroke="#000" stroke-width="3.2" stroke-linecap="round"/>
<line x1="1542.71" y1="713.6" x2="1542.71" y2="733.3" stroke="#000" stroke-width="3.2" stroke-linecap="round"/>
<line x1="1600.24" y1="713.6" x2="1600.24" y2="722.8" stroke="#000" stroke-width="3.2" stroke-linecap="round"/>
<line x1="1657.78" y1="713.6" x2="1657.78" y2="733.3" stroke="#000" stroke-width="3.2" stroke-linecap="round"/>
<line x1="1715.32" y1="713.6" x2="1715.32" y2="722.8" stroke="#000" stroke-width="3.2" stroke-linecap="round"/>
<line x1="1772.85" y1="713.6" x2="1772.85" y2="733.3" stroke="#000" stroke-width="3.2" stroke-linecap="round"/>
<line x1="1830.38" y1="713.6" x2="1830.38" y2="722.8" stroke="#000" stroke-width="3.2" stroke-linecap="round"/>
<line x1="1887.92" y1="713.6" x2="1887.92" y2="733.3" stroke="#000" stroke-width="3.2" stroke-linecap="round"/>
<line x1="1945.45" y1="713.6" x2="1945.45" y2="722.8" stroke="#000" stroke-width="3.2" stroke-linecap="round"/>
<line x1="2002.99" y1="713.6" x2="2002.99" y2="733.3" stroke="#000" stroke-width="3.2" stroke-linecap="round"/>
<text x="1171.98" y="775.9" font-family="'Liberation Sans', Arial, sans-serif" font-size="44" fill="#000">10</text>
<text x="1287.71" y="775.9" font-family="'Liberation Sans', Arial, sans-serif" font-size="44" fill="#000">20</text>
<text x="1403" y="775.9" font-family="'Liberation Sans', Arial, sans-serif" font-size="44" fill="#000">30</text>
<text x="1518.51" y="775.9" font-family="'Liberation Sans', Arial, sans-serif" font-size="44" fill="#000">40</text>
<text x="1633.14" y="775.9" font-family="'Liberation Sans', Arial, sans-serif" font-size="44" fill="#000">50</text>
<text x="1747.99" y="775.9" font-family="'Liberation Sans', Arial, sans-serif" font-size="44" fill="#000">60</text>
<text x="1863.06" y="775.9" font-family="'Liberation Sans', Arial, sans-serif" font-size="44" fill="#000">70</text>
<text x="1978.35" y="775.9" font-family="'Liberation Sans', Arial, sans-serif" font-size="44" fill="#000">80</text>
<text x="1559.37" y="831.6" font-family="'Liberation Sans', Arial, sans-serif" font-size="51" fill="#000">Z'</text>
<text x="1614.64" y="831.6" font-family="'Liberation Serif', 'Times New Roman', serif" font-size="51.5" fill="#000">(Ω)</text>
<g transform="translate(1044.2,486.9) rotate(-90)">
<text x="-2.02" y="0" font-family="'Liberation Sans', Arial, sans-serif" font-size="50.5" fill="#000">-Z''</text>
<text x="78.87" y="0" font-family="'Liberation Serif', 'Times New Roman', serif" font-size="50.8" fill="#000">(Ω)</text>
</g>
<text x="21.9" y="880.6" font-family="'Liberation Sans', Arial, sans-serif" font-size="50" fill="#000">C)</text>
<clipPath id="cclip"><rect x="212.7" y="866.6" width="753.5999999999999" height="621.9999999999999"/></clipPath>
<g clip-path="url(#cclip)">
<polyline points="227.06,1000 230.8,1010 234.53,1018.36 238.26,1025.44 241.99,1031.6 245.72,1036.98 249.46,1041.65 253.19,1045.9 256.92,1050.02 260.65,1054.3 264.38,1058.83 268.12,1063.42 271.85,1067.93 275.58,1072.21 279.31,1076.1 283.04,1079.55 286.78,1082.71 290.51,1085.7 294.24,1088.69 297.97,1091.8 301.7,1095.05 305.44,1098.35 309.17,1101.69 312.9,1105.04 316.63,1108.4 320.36,1111.8 324.1,1115.24 327.83,1118.69 331.56,1122.09 335.29,1125.4 339.02,1128.64 342.76,1131.84 346.49,1134.99 350.22,1138.05 353.95,1141 357.68,1143.82 361.42,1146.54 365.15,1149.19 368.88,1151.83 372.61,1154.5 376.34,1157.21 380.08,1159.92 383.81,1162.64 387.54,1165.33 391.27,1168 395,1170.64 398.74,1173.26 402.47,1175.87 406.2,1178.45 409.93,1181 413.66,1183.51 417.4,1185.99 421.13,1188.45 424.86,1190.92 428.59,1193.4 432.32,1195.89 436.06,1198.37 439.79,1200.87 443.52,1203.41 447.25,1206 450.98,1208.69 454.72,1211.46 458.45,1214.26 462.18,1217.03 465.91,1219.7 469.64,1222.24 473.38,1224.68 477.11,1227.1 480.84,1229.55 484.57,1232.1 488.3,1234.82 492.04,1237.67 495.77,1240.54 499.5,1243.36 503.23,1246 506.96,1248.47 510.7,1250.83 514.43,1253.11 518.16,1255.36 521.89,1257.6 525.62,1259.83 529.36,1262.02 533.09,1264.19 536.82,1266.34 540.55,1268.5 544.28,1270.67 548.02,1272.84 551.75,1275 555.48,1277.12 559.21,1279.2 562.94,1281.2 566.68,1283.14 570.41,1285.06 574.14,1287 577.87,1289 581.6,1291.08 585.34,1293.21 589.07,1295.37 592.8,1297.54 596.53,1299.7 600.26,1301.85 604,1304.01 607.73,1306.16 611.46,1308.3 615.19,1310.4 618.92,1312.47 622.66,1314.51 626.39,1316.53 630.12,1318.53 633.85,1320.5 637.58,1322.44 641.32,1324.35 645.05,1326.24 648.78,1328.12 652.51,1330 656.24,1331.88 659.98,1333.74 663.71,1335.6 667.44,1337.48 671.17,1339.4 674.9,1341.36 678.64,1343.35 682.37,1345.36 686.1,1347.38 689.83,1349.4 693.56,1351.45 697.3,1353.55 701.03,1355.63 704.76,1357.64 708.49,1359.5 712.22,1361.17 715.96,1362.69 719.69,1364.17 723.42,1365.7 727.15,1367.4 730.88,1369.31 734.62,1371.37 738.35,1373.54 742.08,1375.76 745.81,1378 749.54,1380.3 753.28,1382.71 757.01,1385.13 760.74,1387.49 764.47,1389.7 768.2,1391.75 771.94,1393.71 775.67,1395.6 779.4,1397.46 783.13,1399.3 786.86,1401.1 790.6,1402.85 794.33,1404.58 798.06,1406.35 801.79,1408.2 805.52,1410.16 809.26,1412.21 812.99,1414.31 816.72,1416.42 820.45,1418.5 824.18,1420.57 827.92,1422.65 831.65,1424.73 835.38,1426.79 839.11,1428.8 842.84,1430.74 846.58,1432.63 850.31,1434.5 854.04,1436.41 857.77,1438.4 861.5,1440.52 865.24,1442.73 868.97,1444.99 872.7,1447.23 876.43,1449.4 880.16,1451.49 883.9,1453.53 887.63,1455.55 891.36,1457.57 895.09,1459.6 898.82,1461.63 902.56,1463.65 906.29,1465.68 910.02,1467.75 913.75,1469.9 917.48,1472.15 921.22,1474.49 924.95,1476.87 928.68,1479.26 932.41,1481.6 936.14,1483.88 939.88,1486.11 943.61,1488.35 947.34,1490.63 951.07,1493 954.8,1495.47 958.54,1498 962.27,1500.6 966,1503.27 969.73,1506" fill="none" stroke="#ff960f" stroke-width="3" stroke-linejoin="round" stroke-linecap="butt"/>
<polyline points="227.06,1031.6 230.8,1040.53 234.53,1047.77 238.26,1053.89 241.99,1059.5 245.72,1064.81 249.46,1069.7 253.19,1074.2 256.92,1078.35 260.65,1082.2 264.38,1085.71 268.12,1088.89 271.85,1091.89 275.58,1094.85 279.31,1097.9 283.04,1101.07 286.78,1104.27 290.51,1107.45 294.24,1110.58 297.97,1113.6 301.7,1116.53 305.44,1119.4 309.17,1122.21 312.9,1124.94 316.63,1127.6 320.36,1130.14 324.1,1132.58 327.83,1134.97 331.56,1137.39 335.29,1139.9 339.02,1142.51 342.76,1145.18 346.49,1147.9 350.22,1150.67 353.95,1153.5 357.68,1156.43 361.42,1159.47 365.15,1162.54 368.88,1165.58 372.61,1168.5 376.34,1171.32 380.08,1174.08 383.81,1176.78 387.54,1179.42 391.27,1182 395,1184.5 398.74,1186.93 402.47,1189.3 406.2,1191.66 409.93,1194 413.66,1196.34 417.4,1198.65 421.13,1200.95 424.86,1203.23 428.59,1205.5 432.32,1207.75 436.06,1209.99 439.79,1212.22 443.52,1214.42 447.25,1216.6 450.98,1218.73 454.72,1220.8 458.45,1222.88 462.18,1224.99 465.91,1227.2 469.64,1229.54 473.38,1231.99 477.11,1234.48 480.84,1236.97 484.57,1239.4 488.3,1241.77 492.04,1244.13 495.77,1246.46 499.5,1248.76 503.23,1251 506.96,1253.17 510.7,1255.27 514.43,1257.35 518.16,1259.45 521.89,1261.6 525.62,1263.85 529.36,1266.16 533.09,1268.48 536.82,1270.78 540.55,1273 544.28,1275.13 548.02,1277.2 551.75,1279.24 555.48,1281.27 559.21,1283.3 562.94,1285.36 566.68,1287.43 570.41,1289.49 574.14,1291.49 577.87,1293.4 581.6,1295.24 585.34,1297.02 589.07,1298.75 592.8,1300.41 596.53,1302 600.26,1303.49 604,1304.9 607.73,1306.27 611.46,1307.62 615.19,1309 618.92,1310.37 622.66,1311.72 626.39,1313.08 630.12,1314.49 633.85,1316 637.58,1317.64 641.32,1319.38 645.05,1321.2 648.78,1323.05 652.51,1324.9 656.24,1326.75 659.98,1328.62 663.71,1330.51 667.44,1332.41 671.17,1334.3 674.9,1336.23 678.64,1338.2 682.37,1340.16 686.1,1342.04 689.83,1343.8 693.56,1345.41 697.3,1346.91 701.03,1348.36 704.76,1349.8 708.49,1351.3 712.22,1352.84 715.96,1354.4 719.69,1355.97 723.42,1357.57 727.15,1359.2 730.88,1360.88 734.62,1362.61 738.35,1364.35 742.08,1366.09 745.81,1367.8 749.54,1369.45 753.28,1371.08 757.01,1372.69 760.74,1374.32 764.47,1376 768.2,1377.73 771.94,1379.51 775.67,1381.31 779.4,1383.11 783.13,1384.9 786.86,1386.7 790.6,1388.53 794.33,1390.34 798.06,1392.11 801.79,1393.8 805.52,1395.39 809.26,1396.9 812.99,1398.38 816.72,1399.86 820.45,1401.4 824.18,1403 827.92,1404.64 831.65,1406.29 835.38,1407.95 839.11,1409.6 842.84,1411.26 846.58,1412.95 850.31,1414.62 854.04,1416.25 857.77,1417.8 861.5,1419.25 865.24,1420.62 868.97,1421.96 872.7,1423.3 876.43,1424.7 880.16,1426.17 883.9,1427.69 887.63,1429.22 891.36,1430.74 895.09,1432.2 898.82,1433.57 902.56,1434.88 906.29,1436.18 910.02,1437.53 913.75,1439 917.48,1440.65 921.22,1442.46 924.95,1444.34 928.68,1446.21 932.41,1448 936.14,1449.69 939.88,1451.33 943.61,1452.95 947.34,1454.57 951.07,1456.2 954.8,1457.85 958.54,1459.51 962.27,1461.17 966,1462.83 969.73,1464.5" fill="none" stroke="#1476cd" stroke-width="3" stroke-linejoin="round" stroke-linecap="butt"/>
<polyline points="223.33,1052.5 227.06,1058.5 230.8,1063.51 234.53,1068.08 238.26,1072.26 241.99,1076.1 245.72,1079.59 249.46,1082.77 253.19,1085.78 256.92,1088.75 260.65,1091.8 264.38,1095 268.12,1098.27 271.85,1101.5 275.58,1104.61 279.31,1107.5 283.04,1110.13 286.78,1112.6 290.51,1114.96 294.24,1117.3 297.97,1119.7 301.7,1122.13 305.44,1124.54 309.17,1126.97 312.9,1129.44 316.63,1132 320.36,1134.72 324.1,1137.57 327.83,1140.46 331.56,1143.27 335.29,1145.9 339.02,1148.3 342.76,1150.55 346.49,1152.73 350.22,1154.95 353.95,1157.3 357.68,1159.91 361.42,1162.73 365.15,1165.55 368.88,1168.18 372.61,1170.4 376.34,1172.19 380.08,1173.73 383.81,1175.15 387.54,1176.6 391.27,1178.2 395,1179.98 398.74,1181.86 402.47,1183.8 406.2,1185.79 409.93,1187.8 413.66,1189.85 417.4,1191.98 421.13,1194.12 424.86,1196.25 428.59,1198.3 432.32,1200.26 436.06,1202.16 439.79,1204.04 443.52,1205.94 447.25,1207.9 450.98,1209.95 454.72,1212.05 458.45,1214.18 462.18,1216.31 465.91,1218.4 469.64,1220.45 473.38,1222.5 477.11,1224.52 480.84,1226.53 484.57,1228.5 488.3,1230.44 492.04,1232.35 495.77,1234.24 499.5,1236.12 503.23,1238 506.96,1239.9 510.7,1241.8 514.43,1243.69 518.16,1245.56 521.89,1247.4 525.62,1249.2 529.36,1250.96 533.09,1252.71 536.82,1254.45 540.55,1256.2 544.28,1257.96 548.02,1259.72 551.75,1261.47 555.48,1263.23 559.21,1265 562.94,1266.78 566.68,1268.56 570.41,1270.34 574.14,1272.12 577.87,1273.9 581.6,1275.67 585.34,1277.43 589.07,1279.18 592.8,1280.94 596.53,1282.7 600.26,1284.46 604,1286.22 607.73,1287.98 611.46,1289.74 615.19,1291.5 618.92,1293.27 622.66,1295.05 626.39,1296.82 630.12,1298.58 633.85,1300.3 637.58,1301.97 641.32,1303.59 645.05,1305.21 648.78,1306.83 652.51,1308.5 656.24,1310.22 659.98,1311.98 663.71,1313.75 667.44,1315.53 671.17,1317.3 674.9,1319.07 678.64,1320.85 682.37,1322.62 686.1,1324.38 689.83,1326.1 693.56,1327.78 697.3,1329.43 701.03,1331.06 704.76,1332.68 708.49,1334.3 712.22,1335.94 715.96,1337.58 719.69,1339.21 723.42,1340.82 727.15,1342.4 730.88,1343.92 734.62,1345.38 738.35,1346.83 742.08,1348.32 745.81,1349.9 749.54,1351.59 753.28,1353.35 757.01,1355.18 760.74,1357.04 764.47,1358.9 768.2,1360.8 771.94,1362.77 775.67,1364.74 779.4,1366.67 783.13,1368.5 786.86,1370.23 790.6,1371.91 794.33,1373.53 798.06,1375.13 801.79,1376.7 805.52,1378.22 809.26,1379.69 812.99,1381.14 816.72,1382.63 820.45,1384.2 824.18,1385.93 827.92,1387.8 831.65,1389.7 835.38,1391.5 839.11,1393.1 842.84,1394.45 846.58,1395.66 850.31,1396.8 854.04,1397.99 857.77,1399.3 861.5,1400.8 865.24,1402.45 868.97,1404.16 872.7,1405.86 876.43,1407.5 880.16,1409.05 883.9,1410.55 887.63,1412.05 891.36,1413.55 895.09,1415.1 898.82,1416.7 902.56,1418.34 906.29,1419.99 910.02,1421.65 913.75,1423.3 917.48,1424.89 921.22,1426.44 924.95,1428.01 928.68,1429.68 932.41,1431.5 936.14,1433.65 939.88,1436.11 943.61,1438.66 947.34,1441.09 951.07,1443.2 954.8,1445.02 958.54,1446.73 962.27,1448.31 966,1449.74 969.73,1451" fill="none" stroke="#c6100c" stroke-width="3" stroke-linejoin="round" stroke-linecap="butt"/>
<polygon points="215.83,1010.85 230.83,1010.85 223.33,1025.35" fill="#055fae"/>
<polygon points="234.49,1052.75 249.49,1052.75 241.99,1067.25" fill="#055fae"/>
<polygon points="253.15,1075.45 268.15,1075.45 260.65,1089.95" fill="#055fae"/>
<polygon points="271.81,1091.15 286.81,1091.15 279.31,1105.65" fill="#055fae"/>
<polygon points="290.47,1106.85 305.47,1106.85 297.97,1121.35" fill="#055fae"/>
<polygon points="309.13,1120.85 324.13,1120.85 316.63,1135.35" fill="#055fae"/>
<polygon points="327.79,1133.15 342.79,1133.15 335.29,1147.65" fill="#055fae"/>
<polygon points="346.45,1146.75 361.45,1146.75 353.95,1161.25" fill="#055fae"/>
<polygon points="365.11,1163.25 380.11,1163.25 372.61,1177.75" fill="#055fae"/>
<polygon points="383.77,1176.75 398.77,1176.75 391.27,1191.25" fill="#055fae"/>
<polygon points="402.43,1188.75 417.43,1188.75 409.93,1203.25" fill="#055fae"/>
<polygon points="421.09,1200.25 436.09,1200.25 428.59,1214.75" fill="#055fae"/>
<polygon points="439.75,1211.35 454.75,1211.35 447.25,1225.85" fill="#055fae"/>
<polygon points="458.41,1221.95 473.41,1221.95 465.91,1236.45" fill="#055fae"/>
<polygon points="477.07,1234.15 492.07,1234.15 484.57,1248.65" fill="#055fae"/>
<polygon points="495.73,1245.75 510.73,1245.75 503.23,1260.25" fill="#055fae"/>
<polygon points="514.39,1256.35 529.39,1256.35 521.89,1270.85" fill="#055fae"/>
<polygon points="533.05,1267.75 548.05,1267.75 540.55,1282.25" fill="#055fae"/>
<polygon points="551.71,1278.05 566.71,1278.05 559.21,1292.55" fill="#055fae"/>
<polygon points="570.37,1288.15 585.37,1288.15 577.87,1302.65" fill="#055fae"/>
<polygon points="589.03,1296.75 604.03,1296.75 596.53,1311.25" fill="#055fae"/>
<polygon points="607.69,1303.75 622.69,1303.75 615.19,1318.25" fill="#055fae"/>
<polygon points="626.35,1310.75 641.35,1310.75 633.85,1325.25" fill="#055fae"/>
<polygon points="645.01,1319.65 660.01,1319.65 652.51,1334.15" fill="#055fae"/>
<polygon points="663.67,1329.05 678.67,1329.05 671.17,1343.55" fill="#055fae"/>
<polygon points="682.33,1338.55 697.33,1338.55 689.83,1353.05" fill="#055fae"/>
<polygon points="700.99,1346.05 715.99,1346.05 708.49,1360.55" fill="#055fae"/>
<polygon points="719.65,1353.95 734.65,1353.95 727.15,1368.45" fill="#055fae"/>
<polygon points="738.31,1362.55 753.31,1362.55 745.81,1377.05" fill="#055fae"/>
<polygon points="756.97,1370.75 771.97,1370.75 764.47,1385.25" fill="#055fae"/>
<polygon points="775.63,1379.65 790.63,1379.65 783.13,1394.15" fill="#055fae"/>
<polygon points="794.29,1388.55 809.29,1388.55 801.79,1403.05" fill="#055fae"/>
<polygon points="812.95,1396.15 827.95,1396.15 820.45,1410.65" fill="#055fae"/>
<polygon points="831.61,1404.35 846.61,1404.35 839.11,1418.85" fill="#055fae"/>
<polygon points="850.27,1412.55 865.27,1412.55 857.77,1427.05" fill="#055fae"/>
<polygon points="868.93,1419.45 883.93,1419.45 876.43,1433.95" fill="#055fae"/>
<polygon points="887.59,1426.95 902.59,1426.95 895.09,1441.45" fill="#055fae"/>
<polygon points="906.25,1433.75 921.25,1433.75 913.75,1448.25" fill="#055fae"/>
<polygon points="924.91,1442.75 939.91,1442.75 932.41,1457.25" fill="#055fae"/>
<polygon points="943.57,1450.95 958.57,1450.95 951.07,1465.45" fill="#055fae"/>
<polygon points="962.23,1459.25 977.23,1459.25 969.73,1473.75" fill="#055fae"/>
<polygon points="215.23,992.85 231.43,992.85 223.33,978.35" fill="#ff8400"/>
<polygon points="233.89,1039.15 250.09,1039.15 241.99,1024.65" fill="#ff8400"/>
<polygon points="252.55,1061.85 268.75,1061.85 260.65,1047.35" fill="#ff8400"/>
<polygon points="271.21,1083.65 287.41,1083.65 279.31,1069.15" fill="#ff8400"/>
<polygon points="289.87,1099.35 306.07,1099.35 297.97,1084.85" fill="#ff8400"/>
<polygon points="308.53,1115.95 324.73,1115.95 316.63,1101.45" fill="#ff8400"/>
<polygon points="327.19,1132.95 343.39,1132.95 335.29,1118.45" fill="#ff8400"/>
<polygon points="345.85,1148.55 362.05,1148.55 353.95,1134.05" fill="#ff8400"/>
<polygon points="364.51,1162.55 380.71,1162.55 372.61,1148.05" fill="#ff8400"/>
<polygon points="383.17,1176.05 399.37,1176.05 391.27,1161.55" fill="#ff8400"/>
<polygon points="401.83,1189.05 418.03,1189.05 409.93,1174.55" fill="#ff8400"/>
<polygon points="420.49,1201.45 436.69,1201.45 428.59,1186.95" fill="#ff8400"/>
<polygon points="439.15,1214.05 455.35,1214.05 447.25,1199.55" fill="#ff8400"/>
<polygon points="457.81,1227.75 474.01,1227.75 465.91,1213.25" fill="#ff8400"/>
<polygon points="476.47,1240.15 492.67,1240.15 484.57,1225.65" fill="#ff8400"/>
<polygon points="495.13,1254.05 511.33,1254.05 503.23,1239.55" fill="#ff8400"/>
<polygon points="513.79,1265.65 529.99,1265.65 521.89,1251.15" fill="#ff8400"/>
<polygon points="532.45,1276.55 548.65,1276.55 540.55,1262.05" fill="#ff8400"/>
<polygon points="551.11,1287.25 567.31,1287.25 559.21,1272.75" fill="#ff8400"/>
<polygon points="569.77,1297.05 585.97,1297.05 577.87,1282.55" fill="#ff8400"/>
<polygon points="588.43,1307.75 604.63,1307.75 596.53,1293.25" fill="#ff8400"/>
<polygon points="607.09,1318.45 623.29,1318.45 615.19,1303.95" fill="#ff8400"/>
<polygon points="625.75,1328.55 641.95,1328.55 633.85,1314.05" fill="#ff8400"/>
<polygon points="644.41,1338.05 660.61,1338.05 652.51,1323.55" fill="#ff8400"/>
<polygon points="663.07,1347.45 679.27,1347.45 671.17,1332.95" fill="#ff8400"/>
<polygon points="681.73,1357.45 697.93,1357.45 689.83,1342.95" fill="#ff8400"/>
<polygon points="700.39,1367.55 716.59,1367.55 708.49,1353.05" fill="#ff8400"/>
<polygon points="719.05,1375.45 735.25,1375.45 727.15,1360.95" fill="#ff8400"/>
<polygon points="737.71,1386.05 753.91,1386.05 745.81,1371.55" fill="#ff8400"/>
<polygon points="756.37,1397.75 772.57,1397.75 764.47,1383.25" fill="#ff8400"/>
<polygon points="775.03,1407.35 791.23,1407.35 783.13,1392.85" fill="#ff8400"/>
<polygon points="793.69,1416.25 809.89,1416.25 801.79,1401.75" fill="#ff8400"/>
<polygon points="812.35,1426.55 828.55,1426.55 820.45,1412.05" fill="#ff8400"/>
<polygon points="831.01,1436.85 847.21,1436.85 839.11,1422.35" fill="#ff8400"/>
<polygon points="849.67,1446.45 865.87,1446.45 857.77,1431.95" fill="#ff8400"/>
<polygon points="868.33,1457.45 884.53,1457.45 876.43,1442.95" fill="#ff8400"/>
<polygon points="886.99,1467.65 903.19,1467.65 895.09,1453.15" fill="#ff8400"/>
<polygon points="905.65,1477.95 921.85,1477.95 913.75,1463.45" fill="#ff8400"/>
<polygon points="924.31,1489.65 940.51,1489.65 932.41,1475.15" fill="#ff8400"/>
<polygon points="942.97,1501.05 959.17,1501.05 951.07,1486.55" fill="#ff8400"/>
<polygon points="961.63,1514.05 977.83,1514.05 969.73,1499.55" fill="#ff8400"/>
<polygon points="223.33,1043.75 231.58,1052.5 223.33,1061.25 215.08,1052.5" fill="#b40000"/>
<polygon points="241.99,1067.35 250.24,1076.1 241.99,1084.85 233.74,1076.1" fill="#b40000"/>
<polygon points="260.65,1083.05 268.9,1091.8 260.65,1100.55 252.4,1091.8" fill="#b40000"/>
<polygon points="279.31,1098.75 287.56,1107.5 279.31,1116.25 271.06,1107.5" fill="#b40000"/>
<polygon points="297.97,1110.95 306.22,1119.7 297.97,1128.45 289.72,1119.7" fill="#b40000"/>
<polygon points="316.63,1123.25 324.88,1132 316.63,1140.75 308.38,1132" fill="#b40000"/>
<polygon points="335.29,1137.15 343.54,1145.9 335.29,1154.65 327.04,1145.9" fill="#b40000"/>
<polygon points="353.95,1148.55 362.2,1157.3 353.95,1166.05 345.7,1157.3" fill="#b40000"/>
<polygon points="372.61,1161.65 380.86,1170.4 372.61,1179.15 364.36,1170.4" fill="#b40000"/>
<polygon points="391.27,1169.45 399.52,1178.2 391.27,1186.95 383.02,1178.2" fill="#b40000"/>
<polygon points="409.93,1179.05 418.18,1187.8 409.93,1196.55 401.68,1187.8" fill="#b40000"/>
<polygon points="428.59,1189.55 436.84,1198.3 428.59,1207.05 420.34,1198.3" fill="#b40000"/>
<polygon points="447.25,1199.15 455.5,1207.9 447.25,1216.65 439,1207.9" fill="#b40000"/>
<polygon points="465.91,1209.65 474.16,1218.4 465.91,1227.15 457.66,1218.4" fill="#b40000"/>
<polygon points="484.57,1219.75 492.82,1228.5 484.57,1237.25 476.32,1228.5" fill="#b40000"/>
<polygon points="503.23,1229.25 511.48,1238 503.23,1246.75 494.98,1238" fill="#b40000"/>
<polygon points="521.89,1238.65 530.14,1247.4 521.89,1256.15 513.64,1247.4" fill="#b40000"/>
<polygon points="540.55,1247.45 548.8,1256.2 540.55,1264.95 532.3,1256.2" fill="#b40000"/>
<polygon points="559.21,1256.25 567.46,1265 559.21,1273.75 550.96,1265" fill="#b40000"/>
<polygon points="577.87,1265.15 586.12,1273.9 577.87,1282.65 569.62,1273.9" fill="#b40000"/>
<polygon points="596.53,1273.95 604.78,1282.7 596.53,1291.45 588.28,1282.7" fill="#b40000"/>
<polygon points="615.19,1282.75 623.44,1291.5 615.19,1300.25 606.94,1291.5" fill="#b40000"/>
<polygon points="633.85,1291.55 642.1,1300.3 633.85,1309.05 625.6,1300.3" fill="#b40000"/>
<polygon points="652.51,1299.75 660.76,1308.5 652.51,1317.25 644.26,1308.5" fill="#b40000"/>
<polygon points="671.17,1308.55 679.42,1317.3 671.17,1326.05 662.92,1317.3" fill="#b40000"/>
<polygon points="689.83,1317.35 698.08,1326.1 689.83,1334.85 681.58,1326.1" fill="#b40000"/>
<polygon points="708.49,1325.55 716.74,1334.3 708.49,1343.05 700.24,1334.3" fill="#b40000"/>
<polygon points="727.15,1333.65 735.4,1342.4 727.15,1351.15 718.9,1342.4" fill="#b40000"/>
<polygon points="745.81,1341.15 754.06,1349.9 745.81,1358.65 737.56,1349.9" fill="#b40000"/>
<polygon points="764.47,1350.15 772.72,1358.9 764.47,1367.65 756.22,1358.9" fill="#b40000"/>
<polygon points="783.13,1359.75 791.38,1368.5 783.13,1377.25 774.88,1368.5" fill="#b40000"/>
<polygon points="801.79,1367.95 810.04,1376.7 801.79,1385.45 793.54,1376.7" fill="#b40000"/>
<polygon points="820.45,1375.45 828.7,1384.2 820.45,1392.95 812.2,1384.2" fill="#b40000"/>
<polygon points="839.11,1384.35 847.36,1393.1 839.11,1401.85 830.86,1393.1" fill="#b40000"/>
<polygon points="857.77,1390.55 866.02,1399.3 857.77,1408.05 849.52,1399.3" fill="#b40000"/>
<polygon points="876.43,1398.75 884.68,1407.5 876.43,1416.25 868.18,1407.5" fill="#b40000"/>
<polygon points="895.09,1406.35 903.34,1415.1 895.09,1423.85 886.84,1415.1" fill="#b40000"/>
<polygon points="913.75,1414.55 922,1423.3 913.75,1432.05 905.5,1423.3" fill="#b40000"/>
<polygon points="932.41,1422.75 940.66,1431.5 932.41,1440.25 924.16,1431.5" fill="#b40000"/>
<polygon points="951.07,1434.45 959.32,1443.2 951.07,1451.95 942.82,1443.2" fill="#b40000"/>
<polygon points="969.73,1442.25 977.98,1451 969.73,1459.75 961.48,1451" fill="#b40000"/>
</g>
<rect x="212.7" y="866.6" width="753.6" height="622" fill="none" stroke="#000" stroke-width="3.2" stroke-linejoin="round"/>
<line x1="212.7" y1="1488.6" x2="191.2" y2="1488.6" stroke="#000" stroke-width="3.2" stroke-linecap="round"/>
<text x="132.34" y="1497.98" font-family="'Liberation Sans', Arial, sans-serif" font-size="38.3" fill="#000">50</text>
<line x1="212.7" y1="1443.41" x2="202" y2="1443.41" stroke="#000" stroke-width="3.2" stroke-linecap="round"/>
<line x1="212.7" y1="1399.04" x2="191.2" y2="1399.04" stroke="#000" stroke-width="3.2" stroke-linecap="round"/>
<text x="132.34" y="1409.24" font-family="'Liberation Sans', Arial, sans-serif" font-size="38.3" fill="#000">60</text>
<line x1="212.7" y1="1354.67" x2="202" y2="1354.67" stroke="#000" stroke-width="3.2" stroke-linecap="round"/>
<line x1="212.7" y1="1310.3" x2="191.2" y2="1310.3" stroke="#000" stroke-width="3.2" stroke-linecap="round"/>
<text x="132.34" y="1320.5" font-family="'Liberation Sans', Arial, sans-serif" font-size="38.3" fill="#000">70</text>
<line x1="212.7" y1="1265.93" x2="202" y2="1265.93" stroke="#000" stroke-width="3.2" stroke-linecap="round"/>
<line x1="212.7" y1="1221.56" x2="191.2" y2="1221.56" stroke="#000" stroke-width="3.2" stroke-linecap="round"/>
<text x="132.34" y="1231.76" font-family="'Liberation Sans', Arial, sans-serif" font-size="38.3" fill="#000">80</text>
<line x1="212.7" y1="1177.19" x2="202" y2="1177.19" stroke="#000" stroke-width="3.2" stroke-linecap="round"/>
<line x1="212.7" y1="1132.82" x2="191.2" y2="1132.82" stroke="#000" stroke-width="3.2" stroke-linecap="round"/>
<text x="132.34" y="1143.02" font-family="'Liberation Sans', Arial, sans-serif" font-size="38.3" fill="#000">90</text>
<line x1="212.7" y1="1088.45" x2="202" y2="1088.45" stroke="#000" stroke-width="3.2" stroke-linecap="round"/>
<line x1="212.7" y1="1044.08" x2="191.2" y2="1044.08" stroke="#000" stroke-width="3.2" stroke-linecap="round"/>
<text x="111.27" y="1054.28" font-family="'Liberation Sans', Arial, sans-serif" font-size="38.3" fill="#000">100</text>
<line x1="212.7" y1="999.71" x2="202" y2="999.71" stroke="#000" stroke-width="3.2" stroke-linecap="round"/>
<line x1="212.7" y1="955.34" x2="191.2" y2="955.34" stroke="#000" stroke-width="3.2" stroke-linecap="round"/>
<text x="113.95" y="965.54" font-family="'Liberation Sans', Arial, sans-serif" font-size="38.3" fill="#000">110</text>
<line x1="212.7" y1="910.97" x2="202" y2="910.97" stroke="#000" stroke-width="3.2" stroke-linecap="round"/>
<line x1="212.7" y1="866.6" x2="191.2" y2="866.6" stroke="#000" stroke-width="3.2" stroke-linecap="round"/>
<text x="111.27" y="876.8" font-family="'Liberation Sans', Arial, sans-serif" font-size="38.3" fill="#000">120</text>
<line x1="219.6" y1="1488.6" x2="219.6" y2="1510.6" stroke="#000" stroke-width="3.2" stroke-linecap="round"/>
<text x="208.88" y="1549.5" font-family="'Liberation Sans', Arial, sans-serif" font-size="38.3" fill="#000">0</text>
<line x1="312.9" y1="1488.6" x2="312.9" y2="1498.2" stroke="#000" stroke-width="3.2" stroke-linecap="round"/>
<line x1="406.2" y1="1488.6" x2="406.2" y2="1510.6" stroke="#000" stroke-width="3.2" stroke-linecap="round"/>
<text x="384.75" y="1549.5" font-family="'Liberation Sans', Arial, sans-serif" font-size="38.3" fill="#000">50</text>
<line x1="499.5" y1="1488.6" x2="499.5" y2="1498.2" stroke="#000" stroke-width="3.2" stroke-linecap="round"/>
<line x1="592.8" y1="1488.6" x2="592.8" y2="1510.6" stroke="#000" stroke-width="3.2" stroke-linecap="round"/>
<text x="560.05" y="1549.5" font-family="'Liberation Sans', Arial, sans-serif" font-size="38.3" fill="#000">100</text>
<line x1="686.1" y1="1488.6" x2="686.1" y2="1498.2" stroke="#000" stroke-width="3.2" stroke-linecap="round"/>
<line x1="779.4" y1="1488.6" x2="779.4" y2="1510.6" stroke="#000" stroke-width="3.2" stroke-linecap="round"/>
<text x="746.65" y="1549.5" font-family="'Liberation Sans', Arial, sans-serif" font-size="38.3" fill="#000">150</text>
<line x1="872.7" y1="1488.6" x2="872.7" y2="1498.2" stroke="#000" stroke-width="3.2" stroke-linecap="round"/>
<line x1="966.3" y1="1488.6" x2="966.3" y2="1510.6" stroke="#000" stroke-width="3.2" stroke-linecap="round"/>
<text x="933.83" y="1549.5" font-family="'Liberation Sans', Arial, sans-serif" font-size="38.3" fill="#000">200</text>
<text x="475.71" y="1594.5" font-family="'Liberation Sans', Arial, sans-serif" font-size="42.2" fill="#000">cycle number</text>
<g transform="translate(32,1315.7) rotate(-90)">
<text x="-3.41" y="0" font-family="'Liberation Sans', Arial, sans-serif" font-size="42.6" fill="#000">Discharge capacity</text>
</g>
<g transform="translate(92.6,1251.8) rotate(-90)">
<text x="-2.56" y="0" font-family="'Liberation Sans', Arial, sans-serif" font-size="42.6" fill="#000">(mA.h g</text>
<text x="147.04" y="-25.5" font-family="'Liberation Sans', Arial, sans-serif" font-size="24" fill="#000">-1</text>
<text x="148.26" y="12" font-family="'Liberation Sans', Arial, sans-serif" font-size="25.5" fill="#000">NVPF</text>
<text x="212.87" y="0" font-family="'Liberation Sans', Arial, sans-serif" font-size="42.6" fill="#000">)</text>
</g>
<text x="239.77" y="910.9" font-family="'Liberation Sans', Arial, sans-serif" font-size="38.2" fill="#000">cycling C/5</text>
<text x="240.47" y="956.7" font-family="'Liberation Sans', Arial, sans-serif" font-size="38.2" fill="#000">55 °C</text>
<text x="227.87" y="1306.2" font-family="'Liberation Sans', Arial, sans-serif" font-size="38.2" fill="#000">cells formed at:</text>
<line x1="222.6" y1="1352.7" x2="306.3" y2="1352.7" stroke="#1476cd" stroke-width="3" stroke-linecap="round"/>
<polygon points="257.2,1347.8 272.4,1347.8 264.8,1362.6" fill="#055fae"/>
<text x="337.38" y="1364.3" font-family="'Liberation Sans', Arial, sans-serif" font-size="38" fill="#000">0 °C x 3 cycles</text>
<line x1="222.6" y1="1398.7" x2="306.3" y2="1398.7" stroke="#ff960f" stroke-width="3" stroke-linecap="round"/>
<polygon points="257.2,1403.6 272.4,1403.6 264.8,1388.8" fill="#ff8400"/>
<text x="315.7" y="1410.8" font-family="'Liberation Sans', Arial, sans-serif" font-size="38" fill="#000">25 °C x 3 cycles</text>
<line x1="222.6" y1="1443.9" x2="306.3" y2="1443.9" stroke="#c6100c" stroke-width="3" stroke-linecap="round"/>
<polygon points="264.8,1435.6 273,1444.4 264.8,1453.2 256.6,1444.4" fill="#b40000"/>
<text x="316.08" y="1455.4" font-family="'Liberation Sans', Arial, sans-serif" font-size="38" fill="#000">55 °C x 3 cycles</text>
<rect x="619.0" y="866.6" width="347.29999999999995" height="315.1" fill="#fff"/>
<clipPath id="iclip"><rect x="619.0" y="866.6" width="347.29999999999995" height="315.1"/></clipPath>
<g clip-path="url(#iclip)">
<polyline points="623.13,888.8 624.85,895.82 626.58,900.6 628.3,904.59 630.03,907.97 631.76,910.92 633.48,913.49 635.21,915.72 636.93,917.75 638.66,919.72 640.39,921.76 642.11,923.93 643.84,926.12 645.56,928.27 647.29,930.32 649.02,932.18 650.74,933.83 652.47,935.33 654.19,936.76 655.92,938.19 657.65,939.68 659.37,941.23 661.1,942.81 662.82,944.4 664.55,946 666.28,947.61 668,949.23 669.73,950.87 671.45,952.52 673.18,954.14 674.91,955.73 676.63,957.28 678.36,958.81 680.08,960.31 681.81,961.77 683.54,963.18 685.26,964.53 686.99,965.83 688.71,967.09 690.44,968.35 692.17,969.63 693.89,970.92 695.62,972.22 697.34,973.52 699.07,974.8 700.8,976.08 702.52,977.34 704.25,978.59 705.97,979.84 707.7,981.07 709.43,982.29 711.15,983.49 712.88,984.67 714.6,985.85 716.33,987.03 718.06,988.21 719.78,989.4 721.51,990.59 723.23,991.78 724.96,992.99 726.69,994.23 728.41,995.51 730.14,996.84 731.86,998.18 733.59,999.5 735.32,1000.78 737.04,1001.99 738.77,1003.15 740.49,1004.31 742.22,1005.48 743.95,1006.7 745.67,1008 747.4,1009.36 749.12,1010.73 750.85,1012.08 752.58,1013.34 754.3,1014.52 756.03,1015.64 757.75,1016.74 759.48,1017.81 761.21,1018.88 762.93,1019.94 764.66,1020.99 766.38,1022.03 768.11,1023.06 769.84,1024.09 771.56,1025.12 773.29,1026.16 775.01,1027.19 776.74,1028.21 778.47,1029.2 780.19,1030.16 781.92,1031.08 783.64,1032 785.37,1032.92 787.1,1033.88 788.82,1034.87 790.55,1035.89 792.27,1036.93 794,1037.96 795.73,1038.99 797.45,1040.02 799.18,1041.05 800.9,1042.08 802.63,1043.1 804.36,1044.1 806.08,1045.09 807.81,1046.07 809.53,1047.03 811.26,1047.99 812.99,1048.93 814.71,1049.85 816.44,1050.77 818.16,1051.67 819.89,1052.57 821.62,1053.47 823.34,1054.36 825.07,1055.25 826.79,1056.14 828.52,1057.04 830.25,1057.96 831.97,1058.89 833.7,1059.84 835.42,1060.81 837.15,1061.77 838.88,1062.73 840.6,1063.72 842.33,1064.72 844.05,1065.71 845.78,1066.67 847.51,1067.56 849.23,1068.36 850.96,1069.08 852.68,1069.79 854.41,1070.52 856.14,1071.33 857.86,1072.24 859.59,1073.23 861.31,1074.26 863.04,1075.33 864.77,1076.4 866.49,1077.5 868.22,1078.65 869.94,1079.8 871.67,1080.93 873.4,1081.99 875.12,1082.97 876.85,1083.9 878.57,1084.81 880.3,1085.69 882.03,1086.57 883.75,1087.43 885.48,1088.27 887.2,1089.09 888.93,1089.94 890.66,1090.82 892.38,1091.76 894.11,1092.74 895.83,1093.74 897.56,1094.75 899.29,1095.74 901.01,1096.73 902.74,1097.73 904.46,1098.72 906.19,1099.7 907.92,1100.66 909.64,1101.59 911.37,1102.49 913.09,1103.39 914.82,1104.3 916.55,1105.25 918.27,1106.26 920,1107.32 921.72,1108.4 923.45,1109.47 925.18,1110.51 926.9,1111.5 928.63,1112.48 930.35,1113.44 932.08,1114.41 933.81,1115.38 935.53,1116.35 937.26,1117.31 938.98,1118.28 940.71,1119.27 942.44,1120.3 944.16,1121.37 945.89,1122.49 947.61,1123.63 949.34,1124.77 951.07,1125.89 952.79,1126.97 954.52,1128.04 956.24,1129.11 957.97,1130.2 959.7,1131.33 961.42,1132.51 963.15,1133.72 964.87,1134.97 966.6,1136.24" fill="none" stroke="#ff960f" stroke-width="2.7" stroke-linejoin="round" stroke-linecap="butt"/>
<polyline points="623.13,888.8 624.85,891.89 626.58,894.46 628.3,896.81 630.03,898.96 631.76,900.94 633.48,902.73 635.21,904.37 636.93,905.92 638.66,907.44 640.39,909.01 642.11,910.66 643.84,912.34 645.56,914 647.29,915.6 649.02,917.08 650.74,918.44 652.47,919.7 654.19,920.92 655.92,922.12 657.65,923.36 659.37,924.61 661.1,925.85 662.82,927.09 664.55,928.37 666.28,929.68 668,931.08 669.73,932.55 671.45,934.03 673.18,935.48 674.91,936.83 676.63,938.06 678.36,939.22 680.08,940.34 681.81,941.49 683.54,942.69 685.26,944.03 686.99,945.48 688.71,946.93 690.44,948.28 692.17,949.43 693.89,950.35 695.62,951.14 697.34,951.87 699.07,952.62 700.8,953.44 702.52,954.35 704.25,955.32 705.97,956.32 707.7,957.34 709.43,958.38 711.15,959.43 712.88,960.52 714.6,961.63 716.33,962.72 718.06,963.78 719.78,964.78 721.51,965.76 723.23,966.73 724.96,967.7 726.69,968.71 728.41,969.76 730.14,970.85 731.86,971.94 733.59,973.04 735.32,974.11 737.04,975.17 738.77,976.22 740.49,977.26 742.22,978.29 743.95,979.3 745.67,980.3 747.4,981.28 749.12,982.25 750.85,983.22 752.58,984.19 754.3,985.17 756.03,986.14 757.75,987.12 759.48,988.08 761.21,989.02 762.93,989.95 764.66,990.86 766.38,991.75 768.11,992.65 769.84,993.55 771.56,994.45 773.29,995.36 775.01,996.26 776.74,997.17 778.47,998.07 780.19,998.99 781.92,999.9 783.64,1000.82 785.37,1001.74 787.1,1002.65 788.82,1003.56 790.55,1004.46 792.27,1005.37 794,1006.27 795.73,1007.18 797.45,1008.08 799.18,1008.99 800.9,1009.89 802.63,1010.8 804.36,1011.7 806.08,1012.61 807.81,1013.53 809.53,1014.44 811.26,1015.34 812.99,1016.23 814.71,1017.08 816.44,1017.92 818.16,1018.75 819.89,1019.59 821.62,1020.44 823.34,1021.33 825.07,1022.23 826.79,1023.14 828.52,1024.06 830.25,1024.97 831.97,1025.88 833.7,1026.79 835.42,1027.71 837.15,1028.61 838.88,1029.49 840.6,1030.36 842.33,1031.2 844.05,1032.04 845.78,1032.88 847.51,1033.71 849.23,1034.55 850.96,1035.4 852.68,1036.24 854.41,1037.06 856.14,1037.88 857.86,1038.66 859.59,1039.41 861.31,1040.15 863.04,1040.92 864.77,1041.73 866.49,1042.6 868.22,1043.51 869.94,1044.45 871.67,1045.4 873.4,1046.36 875.12,1047.34 876.85,1048.35 878.57,1049.36 880.3,1050.35 882.03,1051.3 883.75,1052.19 885.48,1053.05 887.2,1053.89 888.93,1054.71 890.66,1055.51 892.38,1056.3 894.11,1057.05 895.83,1057.8 897.56,1058.56 899.29,1059.37 901.01,1060.26 902.74,1061.22 904.46,1062.2 906.19,1063.12 907.92,1063.95 909.64,1064.64 911.37,1065.26 913.09,1065.85 914.82,1066.46 916.55,1067.14 918.27,1067.91 920,1068.75 921.72,1069.63 923.45,1070.51 925.18,1071.35 926.9,1072.15 928.63,1072.92 930.35,1073.69 932.08,1074.46 933.81,1075.26 935.53,1076.08 937.26,1076.92 938.98,1077.78 940.71,1078.63 942.44,1079.48 944.16,1080.3 945.89,1081.09 947.61,1081.9 949.34,1082.76 951.07,1083.69 952.79,1084.8 954.52,1086.06 956.24,1087.38 957.97,1088.63 959.7,1089.71 961.42,1090.65 963.15,1091.53 964.87,1092.34 966.6,1093.07" fill="none" stroke="#c6100c" stroke-width="2.7" stroke-linejoin="round" stroke-linecap="butt"/>
<polyline points="623.13,888.8 624.85,895.72 626.58,900.14 628.3,903.72 630.03,906.75 631.76,909.52 633.48,912.15 635.21,914.57 636.93,916.79 638.66,918.85 640.39,920.75 642.11,922.49 643.84,924.06 645.56,925.55 647.29,927.01 649.02,928.52 650.74,930.08 652.47,931.66 654.19,933.24 655.92,934.78 657.65,936.28 659.37,937.73 661.1,939.15 662.82,940.54 664.55,941.89 666.28,943.21 668,944.46 669.73,945.67 671.45,946.85 673.18,948.05 674.91,949.29 676.63,950.58 678.36,951.9 680.08,953.24 681.81,954.62 683.54,956.02 685.26,957.47 686.99,958.97 688.71,960.49 690.44,961.99 692.17,963.43 693.89,964.83 695.62,966.19 697.34,967.53 699.07,968.84 700.8,970.11 702.52,971.35 704.25,972.55 705.97,973.72 707.7,974.89 709.43,976.05 711.15,977.2 712.88,978.35 714.6,979.49 716.33,980.61 718.06,981.73 719.78,982.85 721.51,983.96 723.23,985.06 724.96,986.15 726.69,987.22 728.41,988.28 730.14,989.3 731.86,990.33 733.59,991.38 735.32,992.47 737.04,993.62 738.77,994.83 740.49,996.07 742.22,997.3 743.95,998.5 745.67,999.68 747.4,1000.84 749.12,1001.99 750.85,1003.13 752.58,1004.24 754.3,1005.31 756.03,1006.35 757.75,1007.38 759.48,1008.42 761.21,1009.48 762.93,1010.59 764.66,1011.73 766.38,1012.89 768.11,1014.02 769.84,1015.12 771.56,1016.17 773.29,1017.2 775.01,1018.21 776.74,1019.21 778.47,1020.21 780.19,1021.23 781.92,1022.26 783.64,1023.27 785.37,1024.26 787.1,1025.21 788.82,1026.12 790.55,1027 792.27,1027.86 794,1028.68 795.73,1029.46 797.45,1030.2 799.18,1030.9 800.9,1031.57 802.63,1032.24 804.36,1032.92 806.08,1033.6 807.81,1034.27 809.53,1034.94 811.26,1035.64 812.99,1036.39 814.71,1037.2 816.44,1038.06 818.16,1038.96 819.89,1039.88 821.62,1040.79 823.34,1041.7 825.07,1042.63 826.79,1043.56 828.52,1044.5 830.25,1045.44 831.97,1046.39 833.7,1047.37 835.42,1048.33 837.15,1049.27 838.88,1050.14 840.6,1050.93 842.33,1051.67 844.05,1052.39 845.78,1053.11 847.51,1053.85 849.23,1054.61 850.96,1055.38 852.68,1056.16 854.41,1056.95 856.14,1057.75 857.86,1058.58 859.59,1059.44 861.31,1060.3 863.04,1061.16 864.77,1062.01 866.49,1062.83 868.22,1063.63 869.94,1064.43 871.67,1065.23 873.4,1066.06 875.12,1066.92 876.85,1067.8 878.57,1068.69 880.3,1069.58 882.03,1070.46 883.75,1071.36 885.48,1072.26 887.2,1073.16 888.93,1074.03 890.66,1074.87 892.38,1075.65 894.11,1076.4 895.83,1077.13 897.56,1077.86 899.29,1078.63 901.01,1079.42 902.74,1080.23 904.46,1081.04 906.19,1081.86 907.92,1082.68 909.64,1083.5 911.37,1084.34 913.09,1085.16 914.82,1085.97 916.55,1086.74 918.27,1087.45 920,1088.13 921.72,1088.79 923.45,1089.46 925.18,1090.15 926.9,1090.88 928.63,1091.63 930.35,1092.39 932.08,1093.14 933.81,1093.86 935.53,1094.54 937.26,1095.18 938.98,1095.83 940.71,1096.49 942.44,1097.22 944.16,1098.04 945.89,1098.93 947.61,1099.86 949.34,1100.79 951.07,1101.67 952.79,1102.51 954.52,1103.32 956.24,1104.12 957.97,1104.92 959.7,1105.73 961.42,1106.55 963.15,1107.37 964.87,1108.19 966.6,1109.01" fill="none" stroke="#1476cd" stroke-width="2.7" stroke-linejoin="round" stroke-linecap="butt"/>
<polygon points="617.63,893.55 628.63,893.55 623.13,884.05" fill="#ff8400"/>
<polygon points="629.71,920.47 640.71,920.47 635.21,910.97" fill="#ff8400"/>
<polygon points="641.79,935.07 652.79,935.07 647.29,925.57" fill="#ff8400"/>
<polygon points="653.87,945.98 664.87,945.98 659.37,936.48" fill="#ff8400"/>
<polygon points="665.95,957.27 676.95,957.27 671.45,947.77" fill="#ff8400"/>
<polygon points="678.04,967.93 689.04,967.93 683.54,958.43" fill="#ff8400"/>
<polygon points="690.12,976.97 701.12,976.97 695.62,967.47" fill="#ff8400"/>
<polygon points="702.2,985.82 713.2,985.82 707.7,976.32" fill="#ff8400"/>
<polygon points="714.28,994.15 725.28,994.15 719.78,984.65" fill="#ff8400"/>
<polygon points="726.36,1002.93 737.36,1002.93 731.86,993.43" fill="#ff8400"/>
<polygon points="738.45,1011.45 749.45,1011.45 743.95,1001.95" fill="#ff8400"/>
<polygon points="750.53,1020.39 761.53,1020.39 756.03,1010.89" fill="#ff8400"/>
<polygon points="762.61,1027.81 773.61,1027.81 768.11,1018.31" fill="#ff8400"/>
<polygon points="774.69,1034.91 785.69,1034.91 780.19,1025.41" fill="#ff8400"/>
<polygon points="786.77,1041.68 797.77,1041.68 792.27,1032.18" fill="#ff8400"/>
<polygon points="798.86,1048.85 809.86,1048.85 804.36,1039.35" fill="#ff8400"/>
<polygon points="810.94,1055.52 821.94,1055.52 816.44,1046.02" fill="#ff8400"/>
<polygon points="823.02,1061.79 834.02,1061.79 828.52,1052.29" fill="#ff8400"/>
<polygon points="835.1,1068.47 846.1,1068.47 840.6,1058.97" fill="#ff8400"/>
<polygon points="847.18,1074.54 858.18,1074.54 852.68,1065.04" fill="#ff8400"/>
<polygon points="859.27,1081.15 870.27,1081.15 864.77,1071.65" fill="#ff8400"/>
<polygon points="871.35,1088.65 882.35,1088.65 876.85,1079.15" fill="#ff8400"/>
<polygon points="883.43,1094.69 894.43,1094.69 888.93,1085.19" fill="#ff8400"/>
<polygon points="895.51,1101.48 906.51,1101.48 901.01,1091.98" fill="#ff8400"/>
<polygon points="907.59,1108.14 918.59,1108.14 913.09,1098.64" fill="#ff8400"/>
<polygon points="919.68,1115.26 930.68,1115.26 925.18,1105.76" fill="#ff8400"/>
<polygon points="931.76,1122.06 942.76,1122.06 937.26,1112.56" fill="#ff8400"/>
<polygon points="943.84,1129.52 954.84,1129.52 949.34,1120.02" fill="#ff8400"/>
<polygon points="955.92,1137.26 966.92,1137.26 961.42,1127.76" fill="#ff8400"/>
<polygon points="623.13,883 628.53,888.8 623.13,894.6 617.73,888.8" fill="#b40000"/>
<polygon points="635.21,898.57 640.61,904.37 635.21,910.17 629.81,904.37" fill="#b40000"/>
<polygon points="647.29,909.8 652.69,915.6 647.29,921.4 641.89,915.6" fill="#b40000"/>
<polygon points="659.37,918.81 664.77,924.61 659.37,930.41 653.97,924.61" fill="#b40000"/>
<polygon points="671.45,928.23 676.85,934.03 671.45,939.83 666.05,934.03" fill="#b40000"/>
<polygon points="683.54,936.89 688.94,942.69 683.54,948.49 678.14,942.69" fill="#b40000"/>
<polygon points="695.62,945.34 701.02,951.14 695.62,956.94 690.22,951.14" fill="#b40000"/>
<polygon points="707.7,951.54 713.1,957.34 707.7,963.14 702.3,957.34" fill="#b40000"/>
<polygon points="719.78,958.98 725.18,964.78 719.78,970.58 714.38,964.78" fill="#b40000"/>
<polygon points="731.86,966.14 737.26,971.94 731.86,977.74 726.46,971.94" fill="#b40000"/>
<polygon points="743.95,973.5 749.35,979.3 743.95,985.1 738.55,979.3" fill="#b40000"/>
<polygon points="756.03,980.34 761.43,986.14 756.03,991.94 750.63,986.14" fill="#b40000"/>
<polygon points="768.11,986.85 773.51,992.65 768.11,998.45 762.71,992.65" fill="#b40000"/>
<polygon points="780.19,993.19 785.59,998.99 780.19,1004.79 774.79,998.99" fill="#b40000"/>
<polygon points="792.27,999.57 797.67,1005.37 792.27,1011.17 786.87,1005.37" fill="#b40000"/>
<polygon points="804.36,1005.9 809.76,1011.7 804.36,1017.5 798.96,1011.7" fill="#b40000"/>
<polygon points="816.44,1012.12 821.84,1017.92 816.44,1023.72 811.04,1017.92" fill="#b40000"/>
<polygon points="828.52,1018.26 833.92,1024.06 828.52,1029.86 823.12,1024.06" fill="#b40000"/>
<polygon points="840.6,1024.56 846,1030.36 840.6,1036.16 835.2,1030.36" fill="#b40000"/>
<polygon points="852.68,1030.44 858.08,1036.24 852.68,1042.04 847.28,1036.24" fill="#b40000"/>
<polygon points="864.77,1035.93 870.17,1041.73 864.77,1047.53 859.37,1041.73" fill="#b40000"/>
<polygon points="876.85,1042.55 882.25,1048.35 876.85,1054.15 871.45,1048.35" fill="#b40000"/>
<polygon points="888.93,1048.91 894.33,1054.71 888.93,1060.51 883.53,1054.71" fill="#b40000"/>
<polygon points="901.01,1054.46 906.41,1060.26 901.01,1066.06 895.61,1060.26" fill="#b40000"/>
<polygon points="913.09,1060.05 918.49,1065.85 913.09,1071.65 907.69,1065.85" fill="#b40000"/>
<polygon points="925.18,1065.55 930.58,1071.35 925.18,1077.15 919.78,1071.35" fill="#b40000"/>
<polygon points="937.26,1071.12 942.66,1076.92 937.26,1082.72 931.86,1076.92" fill="#b40000"/>
<polygon points="949.34,1076.96 954.74,1082.76 949.34,1088.56 943.94,1082.76" fill="#b40000"/>
<polygon points="961.42,1084.85 966.82,1090.65 961.42,1096.45 956.02,1090.65" fill="#b40000"/>
<polygon points="617.38,884.05 628.88,884.05 623.13,893.55" fill="#055fae"/>
<polygon points="629.46,909.82 640.96,909.82 635.21,919.32" fill="#055fae"/>
<polygon points="641.54,922.26 653.04,922.26 647.29,931.76" fill="#055fae"/>
<polygon points="653.62,932.98 665.12,932.98 659.37,942.48" fill="#055fae"/>
<polygon points="665.7,942.1 677.2,942.1 671.45,951.6" fill="#055fae"/>
<polygon points="677.79,951.27 689.29,951.27 683.54,960.77" fill="#055fae"/>
<polygon points="689.87,961.44 701.37,961.44 695.62,970.94" fill="#055fae"/>
<polygon points="701.95,970.14 713.45,970.14 707.7,979.64" fill="#055fae"/>
<polygon points="714.03,978.1 725.53,978.1 719.78,987.6" fill="#055fae"/>
<polygon points="726.11,985.58 737.61,985.58 731.86,995.08" fill="#055fae"/>
<polygon points="738.2,993.75 749.7,993.75 743.95,1003.25" fill="#055fae"/>
<polygon points="750.28,1001.6 761.78,1001.6 756.03,1011.1" fill="#055fae"/>
<polygon points="762.36,1009.27 773.86,1009.27 768.11,1018.77" fill="#055fae"/>
<polygon points="774.44,1016.48 785.94,1016.48 780.19,1025.98" fill="#055fae"/>
<polygon points="786.52,1023.11 798.02,1023.11 792.27,1032.61" fill="#055fae"/>
<polygon points="798.61,1028.17 810.11,1028.17 804.36,1037.67" fill="#055fae"/>
<polygon points="810.69,1033.31 822.19,1033.31 816.44,1042.81" fill="#055fae"/>
<polygon points="822.77,1039.75 834.27,1039.75 828.52,1049.25" fill="#055fae"/>
<polygon points="834.85,1046.18 846.35,1046.18 840.6,1055.68" fill="#055fae"/>
<polygon points="846.93,1051.41 858.43,1051.41 852.68,1060.91" fill="#055fae"/>
<polygon points="859.02,1057.26 870.52,1057.26 864.77,1066.76" fill="#055fae"/>
<polygon points="871.1,1063.05 882.6,1063.05 876.85,1072.55" fill="#055fae"/>
<polygon points="883.18,1069.28 894.68,1069.28 888.93,1078.78" fill="#055fae"/>
<polygon points="895.26,1074.67 906.76,1074.67 901.01,1084.17" fill="#055fae"/>
<polygon points="907.34,1080.41 918.84,1080.41 913.09,1089.91" fill="#055fae"/>
<polygon points="919.43,1085.4 930.93,1085.4 925.18,1094.9" fill="#055fae"/>
<polygon points="931.51,1090.43 943.01,1090.43 937.26,1099.93" fill="#055fae"/>
<polygon points="943.59,1096.04 955.09,1096.04 949.34,1105.54" fill="#055fae"/>
<polygon points="955.67,1101.8 967.17,1101.8 961.42,1111.3" fill="#055fae"/>
</g>
<rect x="619" y="866.6" width="347.3" height="315.1" fill="none" stroke="#000" stroke-width="3.2" stroke-linejoin="round"/>
<line x1="619" y1="1181.7" x2="613.8" y2="1181.7" stroke="#000" stroke-width="3.2" stroke-linecap="round"/>
<line x1="619" y1="1160" x2="608.5" y2="1160" stroke="#000" stroke-width="3.2" stroke-linecap="round"/>
<text x="551.63" y="1170.5" font-family="'Liberation Sans', Arial, sans-serif" font-size="35.2" fill="#000">0.4</text>
<line x1="619" y1="1137.4" x2="613.8" y2="1137.4" stroke="#000" stroke-width="3.2" stroke-linecap="round"/>
<line x1="619" y1="1114.8" x2="608.5" y2="1114.8" stroke="#000" stroke-width="3.2" stroke-linecap="round"/>
<text x="551.98" y="1125.3" font-family="'Liberation Sans', Arial, sans-serif" font-size="35.2" fill="#000">0.5</text>
<line x1="619" y1="1092.2" x2="613.8" y2="1092.2" stroke="#000" stroke-width="3.2" stroke-linecap="round"/>
<line x1="619" y1="1069.6" x2="608.5" y2="1069.6" stroke="#000" stroke-width="3.2" stroke-linecap="round"/>
<text x="552.33" y="1080.1" font-family="'Liberation Sans', Arial, sans-serif" font-size="35.2" fill="#000">0.6</text>
<line x1="619" y1="1047" x2="613.8" y2="1047" stroke="#000" stroke-width="3.2" stroke-linecap="round"/>
<line x1="619" y1="1024.4" x2="608.5" y2="1024.4" stroke="#000" stroke-width="3.2" stroke-linecap="round"/>
<text x="552.33" y="1034.9" font-family="'Liberation Sans', Arial, sans-serif" font-size="35.2" fill="#000">0.7</text>
<line x1="619" y1="1001.8" x2="613.8" y2="1001.8" stroke="#000" stroke-width="3.2" stroke-linecap="round"/>
<line x1="619" y1="979.2" x2="608.5" y2="979.2" stroke="#000" stroke-width="3.2" stroke-linecap="round"/>
<text x="552.33" y="989.7" font-family="'Liberation Sans', Arial, sans-serif" font-size="35.2" fill="#000">0.8</text>
<line x1="619" y1="956.6" x2="613.8" y2="956.6" stroke="#000" stroke-width="3.2" stroke-linecap="round"/>
<line x1="619" y1="934" x2="608.5" y2="934" stroke="#000" stroke-width="3.2" stroke-linecap="round"/>
<text x="552.33" y="944.5" font-family="'Liberation Sans', Arial, sans-serif" font-size="35.2" fill="#000">0.9</text>
<line x1="619" y1="911.4" x2="613.8" y2="911.4" stroke="#000" stroke-width="3.2" stroke-linecap="round"/>
<line x1="619" y1="888.8" x2="608.5" y2="888.8" stroke="#000" stroke-width="3.2" stroke-linecap="round"/>
<text x="551.98" y="899.3" font-family="'Liberation Sans', Arial, sans-serif" font-size="35.2" fill="#000">1.0</text>
<line x1="619" y1="866.6" x2="613.8" y2="866.6" stroke="#000" stroke-width="3.2" stroke-linecap="round"/>
<line x1="621.4" y1="1181.7" x2="621.4" y2="1190.6" stroke="#000" stroke-width="3.2" stroke-linecap="round"/>
<text x="611.54" y="1223.5" font-family="'Liberation Sans', Arial, sans-serif" font-size="35.2" fill="#000">0</text>
<line x1="664.55" y1="1181.7" x2="664.55" y2="1186.4" stroke="#000" stroke-width="3.2" stroke-linecap="round"/>
<line x1="707.7" y1="1181.7" x2="707.7" y2="1190.6" stroke="#000" stroke-width="3.2" stroke-linecap="round"/>
<text x="687.99" y="1223.5" font-family="'Liberation Sans', Arial, sans-serif" font-size="35.2" fill="#000">50</text>
<line x1="750.85" y1="1181.7" x2="750.85" y2="1186.4" stroke="#000" stroke-width="3.2" stroke-linecap="round"/>
<line x1="794" y1="1181.7" x2="794" y2="1190.6" stroke="#000" stroke-width="3.2" stroke-linecap="round"/>
<text x="763.9" y="1223.5" font-family="'Liberation Sans', Arial, sans-serif" font-size="35.2" fill="#000">100</text>
<line x1="837.15" y1="1181.7" x2="837.15" y2="1186.4" stroke="#000" stroke-width="3.2" stroke-linecap="round"/>
<line x1="880.3" y1="1181.7" x2="880.3" y2="1190.6" stroke="#000" stroke-width="3.2" stroke-linecap="round"/>
<text x="850.2" y="1223.5" font-family="'Liberation Sans', Arial, sans-serif" font-size="35.2" fill="#000">150</text>
<line x1="923.45" y1="1181.7" x2="923.45" y2="1186.4" stroke="#000" stroke-width="3.2" stroke-linecap="round"/>
<g transform="translate(530.1,1113.1) rotate(-90)">
<text x="-2.42" y="0" font-family="'Liberation Sans', Arial, sans-serif" font-size="34.6" fill="#000">norm. capacity</text>
</g></svg>
</body></html>
